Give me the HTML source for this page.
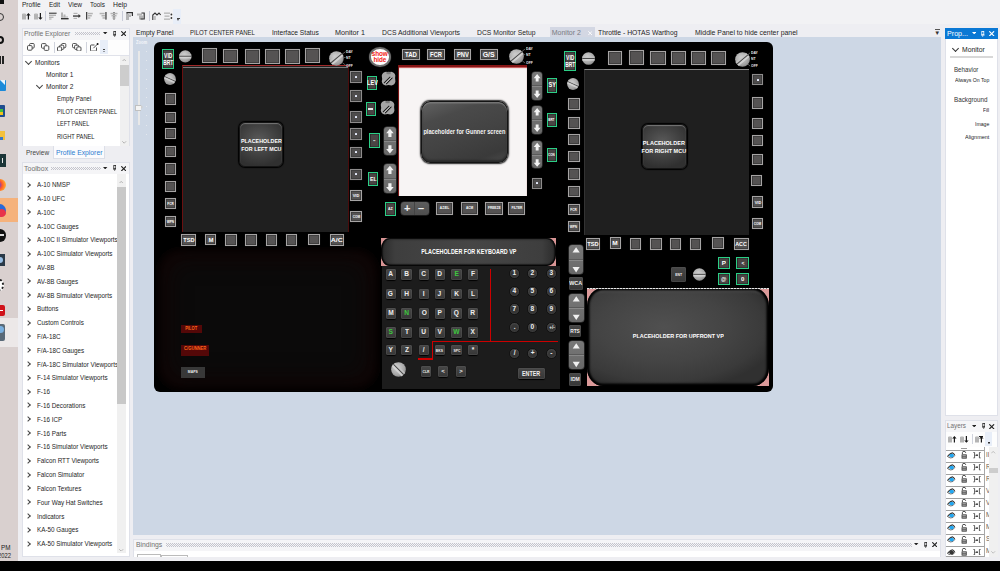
<!DOCTYPE html><html><head><meta charset="utf-8"><style>*{margin:0;padding:0;box-sizing:border-box}
html,body{width:1000px;height:571px;overflow:hidden;background:#000;font-family:"Liberation Sans",sans-serif;}
div{position:absolute}
#app{left:0;top:0;width:1000px;height:561px;background:#eeeef2;overflow:hidden}
.t{white-space:nowrap;line-height:1}
.osb{background:#555353;border:1.2px solid #a6a4a4;box-shadow:inset 0 0 0 0.8px #3a3a3a,0 0 0.6px #777;display:flex;align-items:center;justify-content:center;color:#fff;font-weight:bold}
.osb span{line-height:1;white-space:nowrap}
.dot{display:block;width:2px;height:2px;background:#fff;border-radius:1px}
.grn{background:#4a4444;border:1.4px solid #2bcf86;box-shadow:inset 0 0 0 0.6px #222;display:flex;align-items:center;justify-content:center;color:#fff;font-weight:bold;text-align:center}
.grn span{line-height:1}
.knob{border-radius:50%;background:radial-gradient(circle at 40% 35%,#c8c8c8,#a4a4a4 65%,#808080)}
.knob i{position:absolute;left:6%;top:40%;width:88%;height:20%;display:block;background:linear-gradient(#6a6a6a 0 30%,#c8c8c8 30% 75%,#8a8a8a 75% 100%)}
.rock{background:linear-gradient(#787878,#686868);border-radius:3px;overflow:hidden;box-shadow:0 0 0 0.5px #444}
.rh{left:0;top:0;width:100%;height:50%;border-bottom:1px solid #5a5a5a}
.rh2{top:50%;border-bottom:none;border-top:0.5px solid #888}
.ph{border-radius:7px;background:radial-gradient(ellipse at 50% 50%,#4e4e4e,#3a3a3a 70%,#2a2a2a);border:1.5px solid #111;box-shadow:0 0 0 1px #000;color:#f0f0f0;font-weight:bold;display:flex;align-items:center;justify-content:center;text-align:center;line-height:1.15}
.key{background:linear-gradient(#474747,#363636);border-radius:2px;box-shadow:0 0.5px 1px #000,inset 0 0 0 0.5px #555;color:#eee;font-weight:bold;font-size:7px;display:flex;align-items:center;justify-content:center}
.num{border-radius:50%;background:radial-gradient(circle at 50% 55%,#353535 45%,#4a4a4a 72%,#5a5a5a 82%,#2a2a2a 95%);border:0.7px solid #111;color:#eee;font-weight:bold;display:flex;align-items:center;justify-content:center}
.oct{border-radius:40%}
.pm{background:linear-gradient(#5e5e5e,#4e4e4e);border-radius:3px;box-shadow:0 0 0 0.5px #333}
.pm b{position:absolute;top:0px;font-size:11px;line-height:13px;color:#eee;font-weight:bold}
.pm:after{content:"";position:absolute;left:13.5px;top:0;width:1px;height:100%;background:#444}
.ll{display:flex;align-items:center;justify-content:center;font-weight:bold}
.mcu{border-radius:6px;background:radial-gradient(ellipse 70% 60% at 45% 40%,#5a5a5a,#404040 60%,#303030);border:1.3px solid #151515;box-shadow:0 0 1px 1px #000, inset 0 1px 1px #777}
.gun{border-radius:9px/10px;background:linear-gradient(160deg,#626262 0%,#4a4a4a 25%,#434343 55%,#3a3a3a 85%,#4a4a4a 100%);border:1.6px solid #141414;box-shadow:0 0 1.5px 0.8px #222, inset 0 1.5px 1px #777, inset 0 -2px 2px #2a2a2a}
.kvp{border-radius:9px/11px;background:linear-gradient(90deg,#2a2a2a 0,#3e3e3e 8%,#464646 50%,#3e3e3e 92%,#2a2a2a 100%);border:none;box-shadow:inset 0 0 1.5px 1.5px #000, inset 0 3px 1px -1px #666}
.uvp{border-radius:16px/18px;background:radial-gradient(ellipse 65% 65% at 42% 40%,#505050,#444 55%,#3a3a3a 85%,#303030);border:none;box-shadow:inset 0 0 2px 2.5px #000, inset 0 5px 3px -2px #6a6a6a}
.sm{border-color:#8e8c8c;background:#4e4c4c}
.sm .dot{width:2px;height:2px;background:#e8eeff;border-radius:0.5px}
</style></head><body>
<div id="app">
<div style="left:0px;top:0px;width:18px;height:561px;background:#d9d0cf"></div>
<div style="left:0px;top:0px;width:4px;height:4px;background:#111"></div>
<div style="left:-4px;top:13px;width:8px;height:8px;border:1.5px solid #333;border-radius:50%"></div>
<div style="left:-4px;top:36px;width:8px;height:8px;border:2px solid #111;border-radius:50%"></div>
<div style="left:0px;top:56px;width:1px;height:8px;background:#222"></div>
<div style="left:2px;top:56px;width:1.5px;height:8px;background:#222"></div>
<div style="left:0px;top:80px;width:5.5px;height:11px;background:#1b8ad9;border-radius:0 1px 1px 0"></div>
<div style="left:0;top:80px;width:0;height:0;border-left:5px solid transparent;border-top:5px solid #e8f4fc"></div>
<div style="left:0px;top:105px;width:5px;height:12px;background:#1f4e8f;border-radius:0 1px 1px 0"></div>
<div style="left:0px;top:109px;width:3px;height:2.5px;background:#3fbf3f"></div>
<div style="left:0px;top:112px;width:3px;height:2.5px;background:#f2c21c"></div>
<div style="left:0px;top:131px;width:4.5px;height:9px;background:#f4c13d"></div>
<div style="left:0px;top:137px;width:3px;height:3px;background:#3a78c8"></div>
<div style="left:0px;top:154px;width:5.5px;height:13px;background:#1c3638"></div>
<div style="left:1.5px;top:158px;width:1.5px;height:5px;background:#e8e8e8"></div>
<div style="left:-6px;top:179px;width:12px;height:12px;border-radius:50%;background:radial-gradient(circle at 30% 50%,#7b3fc4 20%,#ff5a2a 45%,#ffb030 80%)"></div>
<div style="left:0px;top:198.3px;width:18px;height:24.2px;background:#f5b27c"></div>
<div style="left:-7px;top:204px;width:13px;height:13px;border-radius:50%;background:#2a6ad8"></div>
<div style="left:-3px;top:209px;width:9px;height:8px;border-radius:50%;background:#e8334a"></div>
<div style="left:-6px;top:229px;width:12px;height:12.5px;border-radius:50%;background:#111"></div>
<div style="left:0px;top:234px;width:4px;height:2px;background:#ddd"></div>
<div style="left:0px;top:254px;width:5px;height:12px;background:#2a3a48"></div>
<div style="left:-3px;top:257px;width:6px;height:6px;border-radius:50%;background:#9ac0e6"></div>
<div style="left:-4px;top:279px;width:8px;height:12px;border:2px dotted #222;border-radius:50%;background:#fff"></div>
<div style="left:0px;top:304.6px;width:4.5px;height:11.1px;background:#d0121a;border-radius:0 2px 2px 0"></div>
<div style="left:0px;top:309.5px;width:3px;height:1.5px;background:#fff"></div>
<div style="left:0px;top:318.4px;width:18px;height:28.6px;background:#ece8e8"></div>
<div style="left:0px;top:324px;width:5px;height:17px;background:#5a6a78;border-radius:0 2px 2px 0"></div>
<div style="left:-3px;top:326px;width:7px;height:7px;border-radius:50%;background:#7ab0e0"></div>
<div class="t" style="left:0.5px;top:543.59px;font-size:7px;color:#222;transform:scaleX(0.905);transform-origin:0 0;">PM</div>
<div class="t" style="left:-2px;top:552.29px;font-size:7px;color:#222;transform:scaleX(0.835);transform-origin:0 0;">2022</div>
<div style="left:18px;top:0px;width:982px;height:24px;background:#f2f2f4"></div>
<div class="t" style="left:22.2px;top:0.89px;font-size:7px;color:#1e1e1e;transform:scaleX(0.937);transform-origin:0 0;">Profile</div>
<div class="t" style="left:49px;top:0.89px;font-size:7px;color:#1e1e1e;transform:scaleX(0.912);transform-origin:0 0;">Edit</div>
<div class="t" style="left:68.2px;top:0.89px;font-size:7px;color:#1e1e1e;transform:scaleX(0.931);transform-origin:0 0;">View</div>
<div class="t" style="left:90px;top:0.89px;font-size:7px;color:#1e1e1e;transform:scaleX(0.918);transform-origin:0 0;">Tools</div>
<div class="t" style="left:113px;top:0.89px;font-size:7px;color:#1e1e1e;transform:scaleX(0.972);transform-origin:0 0;">Help</div>
<svg style="position:absolute;left:21.6px;top:12px" width="9" height="9" viewBox="0 0 9 9"><rect x="0" y="2" width="4" height="5.5" fill="#b4b4b4"/><rect x="0.5" y="1.2" width="3" height="1" fill="#ccc"/><path d="M6.4 1 L8.6 3.4 L7 3.4 L7 7.5 L5.8 7.5 L5.8 3.4 L4.2 3.4Z" fill="#1a1a1a"/></svg>
<svg style="position:absolute;left:33.8px;top:12px" width="9" height="9" viewBox="0 0 9 9"><rect x="0" y="2" width="4" height="5.5" fill="#b4b4b4"/><rect x="0.5" y="1.2" width="3" height="1" fill="#ccc"/><path d="M6.4 7.8 L8.6 5.4 L7 5.4 L7 1 L5.8 1 L5.8 5.4 L4.2 5.4Z" fill="#1a1a1a"/></svg>
<div style="left:45.4px;top:11.2px;width:0.7px;height:9.6px;background:#c9ccd8"></div>
<svg style="position:absolute;left:48.8px;top:12.4px" width="8" height="8" viewBox="0 0 8 8"><rect x="0" y="0.6" width="7.6" height="1.3" fill="#555"/><rect x="0" y="2.6" width="7" height="1.4" fill="#b4b4b4"/><rect x="0" y="4.6" width="4.5" height="1.4" fill="#b4b4b4"/><rect x="0" y="6.4" width="2.5" height="1.2" fill="#b4b4b4"/></svg>
<svg style="position:absolute;left:61.2px;top:12.4px" width="8" height="8" viewBox="0 0 8 8"><rect x="0" y="0.5" width="2" height="5" fill="#b4b4b4"/><rect x="2.5" y="2.5" width="2" height="3" fill="#b4b4b4"/><rect x="0" y="4.5" width="7" height="1" fill="#b4b4b4"/><rect x="0" y="6" width="7.6" height="1.4" fill="#333"/></svg>
<svg style="position:absolute;left:73.2px;top:12.4px" width="8" height="8" viewBox="0 0 8 8"><rect x="0.5" y="0.8" width="4" height="1.2" fill="#b4b4b4"/><rect x="0" y="3.4" width="6" height="1.3" fill="#333"/><path d="M5.5 2 L7.8 4 L5.5 6Z" fill="#333"/><rect x="0.5" y="5.8" width="3.5" height="1.2" fill="#b4b4b4"/></svg>
<svg style="position:absolute;left:86px;top:12.4px" width="8" height="8" viewBox="0 0 8 8"><rect x="0" y="0" width="1.3" height="7.6" fill="#444"/><rect x="1.8" y="0.8" width="5" height="1.5" fill="#b4b4b4"/><rect x="1.8" y="3" width="4" height="1.5" fill="#b4b4b4"/><rect x="1.8" y="5.2" width="2.5" height="1.5" fill="#b4b4b4"/></svg>
<svg style="position:absolute;left:98.6px;top:12.4px" width="8" height="8" viewBox="0 0 8 8"><rect x="6.3" y="0" width="1.3" height="7.6" fill="#444"/><rect x="0.6" y="0.8" width="5" height="1.5" fill="#b4b4b4"/><rect x="2.5" y="3" width="3.4" height="1.5" fill="#b4b4b4"/><rect x="3.5" y="5.2" width="2.5" height="1.5" fill="#b4b4b4"/></svg>
<svg style="position:absolute;left:109.9px;top:12.4px" width="8" height="8" viewBox="0 0 8 8"><rect x="3.4" y="0" width="1.2" height="7.6" fill="#444"/><rect x="0.5" y="0.8" width="7" height="1.5" fill="#b4b4b4"/><rect x="1.5" y="3" width="5" height="1.5" fill="#b4b4b4"/><rect x="2.5" y="5.2" width="3" height="1.5" fill="#b4b4b4"/></svg>
<div style="left:121.5px;top:11.2px;width:0.7px;height:9.6px;background:#c9ccd8"></div>
<svg style="position:absolute;left:125.6px;top:12.2px" width="8" height="8.5" viewBox="0 0 8 8.5"><rect x="0" y="2" width="3" height="6" fill="#b4b4b4"/><rect x="3" y="2.5" width="2" height="2.5" fill="#b4b4b4"/><path d="M1 1.8 L1 0.6 L6.4 0.6 L6.4 4" stroke="#333" stroke-width="1.2" fill="none"/></svg>
<svg style="position:absolute;left:136.9px;top:12.2px" width="8.5" height="8.5" viewBox="0 0 8.5 8.5"><rect x="0" y="1.5" width="5" height="2" fill="#b4b4b4"/><rect x="2" y="3.5" width="4" height="4" fill="#b4b4b4"/><path d="M4.5 1 L7.2 1 L7.2 7 L3.5 7" stroke="#333" stroke-width="1.2" fill="none"/></svg>
<div style="left:148.8px;top:11.2px;width:0.7px;height:9.6px;background:#c9ccd8"></div>
<svg style="position:absolute;left:151.7px;top:12.2px" width="9.5" height="8.5" viewBox="0 0 9.5 8.5"><path d="M0.8 8 L0.8 3 L3 1 L5 3 L7 1 L8.6 3" stroke="#333" stroke-width="1.1" fill="none"/><rect x="2.2" y="4" width="1.5" height="4" fill="#b4b4b4"/></svg>
<svg style="position:absolute;left:163.9px;top:12.2px" width="9" height="8.5" viewBox="0 0 9 8.5"><rect x="0" y="0.5" width="6" height="1.3" fill="#b4b4b4"/><rect x="0.5" y="3.5" width="5" height="1.3" fill="#b4b4b4"/><rect x="0" y="6.5" width="6" height="1.3" fill="#b4b4b4"/><circle cx="7.4" cy="2.5" r="0.9" fill="#333"/><circle cx="7.4" cy="6" r="0.9" fill="#333"/></svg>
<div style="left:173.3px;top:9.4px;width:7.7px;height:14.6px;background:#e8eef8"></div>
<div style="left:176.8px;top:17.6px;width:3.0px;height:0.7px;background:#444"></div>
<div style="left:176.8px;top:19px;width:0;height:0;border-left:1.5px solid transparent;border-right:1.5px solid transparent;border-top:2px solid #444"></div>
<div style="left:21.5px;top:27.7px;width:108.0px;height:118.8px;background:#f5f5f7;border:1px solid #dfe1e9"></div>
<div class="t" style="left:24px;top:29.89px;font-size:7px;color:#707070;transform:scaleX(0.968);transform-origin:0 0;">Profile Explorer</div>
<div style="left:75px;top:31.8px;width:25px;height:3.4px;background-image:radial-gradient(circle at 0.5px 0.5px,#c4c4cc 0.55px,transparent 0.7px),radial-gradient(circle at 1.5px 1.5px,#c4c4cc 0.55px,transparent 0.7px);background-size:2px 2px"></div>
<svg style="position:absolute;left:103.4px;top:32.0px" width="4.4" height="2.4" viewBox="0 0 4.4 2.4"><path d="M0 0 L4.4 0 L2.2 2.4Z" fill="#222"/></svg>
<svg style="position:absolute;left:112.7px;top:30.6px" width="3.6" height="6" viewBox="0 0 3.6 6"><rect x="0.8" y="0.4" width="2" height="3.4" fill="none" stroke="#222" stroke-width="0.8"/><rect x="0" y="3.7" width="3.6" height="0.7" fill="#222"/><rect x="1.5" y="4.2" width="0.6" height="1.8" fill="#222"/></svg>
<svg style="position:absolute;left:120.8px;top:30.9px" width="5.4" height="5.4" viewBox="0 0 5.4 5.4"><path d="M0.3 0.3 L5.1 5.1 M5.1 0.3 L0.3 5.1" stroke="#222" stroke-width="1.1"/></svg>
<div style="left:22.5px;top:40px;width:106.0px;height:15.5px;background:#fdfdfd;border-bottom:1px solid #e0e2ea"></div>
<svg style="position:absolute;left:27px;top:42.8px" width="8" height="8" viewBox="0 0 8 8"><rect x="2.6" y="0.5" width="4.6" height="4.6" rx="1" fill="#fff" stroke="#3c3c3c" stroke-width="0.9"/><rect x="0.5" y="2.6" width="4.6" height="4.6" rx="1" fill="#fff" stroke="#3c3c3c" stroke-width="0.9"/></svg>
<svg style="position:absolute;left:41.2px;top:42.8px" width="8.5" height="8" viewBox="0 0 8.5 8"><rect x="0.5" y="0.6" width="4.6" height="4.6" rx="1" fill="#fff" stroke="#3c3c3c" stroke-width="0.9"/><rect x="3.2" y="2.8" width="4.6" height="4.6" rx="1" fill="#fff" stroke="#3c3c3c" stroke-width="0.9"/></svg>
<div style="left:53.5px;top:42px;width:0.7px;height:11px;background:#d0d3dc"></div>
<svg style="position:absolute;left:57.4px;top:42.6px" width="10" height="8.6" viewBox="0 0 10 8.6"><rect x="4.6" y="0.5" width="4.2" height="4.2" rx="1" fill="#fff" stroke="#3c3c3c" stroke-width="0.9"/><rect x="2.6" y="2.2" width="4.2" height="4.2" rx="1" fill="#fff" stroke="#3c3c3c" stroke-width="0.9"/><rect x="0.5" y="3.9" width="4.2" height="4.2" rx="1" fill="#fff" stroke="#3c3c3c" stroke-width="0.9"/></svg>
<svg style="position:absolute;left:71.8px;top:42.6px" width="10.5" height="8.6" viewBox="0 0 10.5 8.6"><rect x="0.5" y="0.5" width="4.2" height="4.2" rx="1" fill="#fff" stroke="#3c3c3c" stroke-width="0.9"/><rect x="2.6" y="2.2" width="4.2" height="4.2" rx="1" fill="#fff" stroke="#3c3c3c" stroke-width="0.9"/><rect x="4.8" y="3.9" width="4.2" height="4.2" rx="1" fill="#fff" stroke="#3c3c3c" stroke-width="0.9"/></svg>
<div style="left:85.8px;top:42px;width:0.7px;height:11px;background:#d0d3dc"></div>
<svg style="position:absolute;left:89.5px;top:42.6px" width="9" height="8.6" viewBox="0 0 9 8.6"><path d="M4.5 2 L1.2 2 Q0.5 2 0.5 2.8 L0.5 7.4 Q0.5 8.1 1.2 8.1 L5.8 8.1 Q6.5 8.1 6.5 7.4 L6.5 4.5" fill="none" stroke="#3c3c3c" stroke-width="0.9"/><path d="M3.4 5.2 L7.4 1.2" stroke="#3c3c3c" stroke-width="0.9"/><circle cx="7.6" cy="1.1" r="1" fill="#111"/></svg>
<div style="left:100.4px;top:40px;width:7.2px;height:13.5px;background:#e8eef8"></div>
<div style="left:103.2px;top:49.4px;width:2.2px;height:0.5px;background:#444"></div>
<div style="left:103.1px;top:50.5px;width:0;height:0;border-left:1.2px solid transparent;border-right:1.2px solid transparent;border-top:1.8px solid #444"></div>
<div style="left:22.5px;top:56px;width:106.0px;height:90px;background:#fff"></div>
<div style="left:120.4px;top:56px;width:8.2px;height:90px;background:#f0f0f0"></div>
<div style="left:120.4px;top:65px;width:8.2px;height:20.8px;background:#cdcdcd"></div>
<svg style="position:absolute;left:122.2px;top:58.6px" width="4.4" height="2.6" viewBox="0 0 4.4 2.6"><path d="M0.3 2.3 L2.2 0.4 L4.1 2.3" stroke="#999" stroke-width="0.7" fill="none"/></svg>
<div style="left:25.8px;top:58.5px;width:5px;height:5px;border-right:1px solid #444;border-bottom:1px solid #444;transform:rotate(45deg)"></div>
<div class="t" style="left:35px;top:59.29px;font-size:7px;color:#1e1e1e;transform:scaleX(0.924);transform-origin:0 0;">Monitors</div>
<div class="t" style="left:46px;top:70.79px;font-size:7px;color:#1e1e1e;transform:scaleX(0.943);transform-origin:0 0;">Monitor 1</div>
<div style="left:36.8px;top:82.5px;width:5px;height:5px;border-right:1px solid #444;border-bottom:1px solid #444;transform:rotate(45deg)"></div>
<div class="t" style="left:46px;top:83.29px;font-size:7px;color:#1e1e1e;transform:scaleX(0.943);transform-origin:0 0;">Monitor 2</div>
<div class="t" style="left:57px;top:95.29px;font-size:7px;color:#1e1e1e;transform:scaleX(0.864);transform-origin:0 0;">Empty Panel</div>
<div class="t" style="left:57px;top:107.59px;font-size:7px;color:#1e1e1e;transform:scaleX(0.798);transform-origin:0 0;">PILOT CENTER PANEL</div>
<div class="t" style="left:57px;top:120.29px;font-size:7px;color:#1e1e1e;transform:scaleX(0.778);transform-origin:0 0;">LEFT PANEL</div>
<div class="t" style="left:57px;top:132.99px;font-size:7px;color:#1e1e1e;transform:scaleX(0.815);transform-origin:0 0;">RIGHT PANEL</div>
<div style="left:120.6px;top:56px;width:7.8px;height:90px;background:transparent"></div>
<svg style="position:absolute;left:122.2px;top:141.2px" width="4.4" height="2.6" viewBox="0 0 4.4 2.6"><path d="M0.3 0.3 L2.2 2.2 L4.1 0.3" stroke="#999" stroke-width="0.7" fill="none"/></svg>
<div style="left:52.5px;top:146px;width:52.5px;height:12.5px;background:#fbfbfd;border:1px solid #dcdfe8;border-top:none"></div>
<div class="t" style="left:25.5px;top:148.89px;font-size:7px;color:#444;transform:scaleX(0.928);transform-origin:0 0;">Preview</div>
<div class="t" style="left:56px;top:148.89px;font-size:7px;color:#2b7bd0;transform:scaleX(0.970);transform-origin:0 0;">Profile Explorer</div>
<div style="left:21.5px;top:162.4px;width:108.0px;height:394.6px;background:#f5f5f7;border:1px solid #dfe1e9"></div>
<div class="t" style="left:24px;top:164.59px;font-size:7px;color:#707070;">Toolbox</div>
<div style="left:51px;top:166.5px;width:50px;height:3.5px;background-image:radial-gradient(circle at 0.5px 0.5px,#c4c4cc 0.55px,transparent 0.7px),radial-gradient(circle at 1.5px 1.5px,#c4c4cc 0.55px,transparent 0.7px);background-size:2px 2px"></div>
<svg style="position:absolute;left:103.3px;top:166.7px" width="4.4" height="2.4" viewBox="0 0 4.4 2.4"><path d="M0 0 L4.4 0 L2.2 2.4Z" fill="#222"/></svg>
<svg style="position:absolute;left:112.6px;top:165.3px" width="3.6" height="6" viewBox="0 0 3.6 6"><rect x="0.8" y="0.4" width="2" height="3.4" fill="none" stroke="#222" stroke-width="0.8"/><rect x="0" y="3.7" width="3.6" height="0.7" fill="#222"/><rect x="1.5" y="4.2" width="0.6" height="1.8" fill="#222"/></svg>
<svg style="position:absolute;left:120.7px;top:165.6px" width="5.4" height="5.4" viewBox="0 0 5.4 5.4"><path d="M0.3 0.3 L5.1 5.1 M5.1 0.3 L0.3 5.1" stroke="#222" stroke-width="1.1"/></svg>
<div style="left:22.5px;top:174.2px;width:106.0px;height:382.3px;background:#fff"></div>
<div style="left:117px;top:174.2px;width:9px;height:379.3px;background:#f0f0f0"></div>
<div style="left:117px;top:187px;width:9px;height:216.6px;background:#c8c8c8"></div>
<svg style="position:absolute;left:119.3px;top:180.6px" width="4.4" height="2.6" viewBox="0 0 4.4 2.6"><path d="M0.3 2.3 L2.2 0.4 L4.1 2.3" stroke="#999" stroke-width="0.7" fill="none"/></svg>
<svg style="position:absolute;left:119.3px;top:548.6px" width="4.4" height="2.6" viewBox="0 0 4.4 2.6"><path d="M0.3 0.3 L2.2 2.2 L4.1 0.3" stroke="#999" stroke-width="0.7" fill="none"/></svg>
<div style="left:22.5px;top:174px;width:94px;height:383px;overflow:hidden">
<div style="left:3.0px;top:8.50000000000001px;width:4px;height:4px;border-right:1px solid #444;border-top:1px solid #444;transform:rotate(45deg)"></div>
<div class="t" style="left:14.2px;top:7.09px;font-size:7px;color:#1e1e1e;transform:scaleX(0.900);transform-origin:0 0;">A-10 NMSP</div>
<div style="left:3.0px;top:22.310000000000013px;width:4px;height:4px;border-right:1px solid #444;border-top:1px solid #444;transform:rotate(45deg)"></div>
<div class="t" style="left:14.2px;top:20.9px;font-size:7px;color:#1e1e1e;transform:scaleX(0.900);transform-origin:0 0;">A-10 UFC</div>
<div style="left:3.0px;top:36.12000000000002px;width:4px;height:4px;border-right:1px solid #444;border-top:1px solid #444;transform:rotate(45deg)"></div>
<div class="t" style="left:14.2px;top:34.71px;font-size:7px;color:#1e1e1e;transform:scaleX(0.900);transform-origin:0 0;">A-10C</div>
<div style="left:3.0px;top:49.93000000000002px;width:4px;height:4px;border-right:1px solid #444;border-top:1px solid #444;transform:rotate(45deg)"></div>
<div class="t" style="left:14.2px;top:48.52px;font-size:7px;color:#1e1e1e;transform:scaleX(0.900);transform-origin:0 0;">A-10C Gauges</div>
<div style="left:3.0px;top:63.74000000000002px;width:4px;height:4px;border-right:1px solid #444;border-top:1px solid #444;transform:rotate(45deg)"></div>
<div class="t" style="left:14.2px;top:62.33px;font-size:7px;color:#1e1e1e;transform:scaleX(0.900);transform-origin:0 0;">A-10C II Simulator Viewports</div>
<div style="left:3.0px;top:77.55000000000003px;width:4px;height:4px;border-right:1px solid #444;border-top:1px solid #444;transform:rotate(45deg)"></div>
<div class="t" style="left:14.2px;top:76.14px;font-size:7px;color:#1e1e1e;transform:scaleX(0.900);transform-origin:0 0;">A-10C Simulator Viewports</div>
<div style="left:3.0px;top:91.36000000000003px;width:4px;height:4px;border-right:1px solid #444;border-top:1px solid #444;transform:rotate(45deg)"></div>
<div class="t" style="left:14.2px;top:89.95px;font-size:7px;color:#1e1e1e;transform:scaleX(0.900);transform-origin:0 0;">AV-8B</div>
<div style="left:3.0px;top:105.17000000000003px;width:4px;height:4px;border-right:1px solid #444;border-top:1px solid #444;transform:rotate(45deg)"></div>
<div class="t" style="left:14.2px;top:103.76px;font-size:7px;color:#1e1e1e;transform:scaleX(0.900);transform-origin:0 0;">AV-8B Gauges</div>
<div style="left:3.0px;top:118.98000000000003px;width:4px;height:4px;border-right:1px solid #444;border-top:1px solid #444;transform:rotate(45deg)"></div>
<div class="t" style="left:14.2px;top:117.57px;font-size:7px;color:#1e1e1e;transform:scaleX(0.900);transform-origin:0 0;">AV-8B Simulator Viewports</div>
<div style="left:3.0px;top:132.79000000000002px;width:4px;height:4px;border-right:1px solid #444;border-top:1px solid #444;transform:rotate(45deg)"></div>
<div class="t" style="left:14.2px;top:131.38px;font-size:7px;color:#1e1e1e;transform:scaleX(0.900);transform-origin:0 0;">Buttons</div>
<div style="left:3.0px;top:146.59999999999997px;width:4px;height:4px;border-right:1px solid #444;border-top:1px solid #444;transform:rotate(45deg)"></div>
<div class="t" style="left:14.2px;top:145.19px;font-size:7px;color:#1e1e1e;transform:scaleX(0.900);transform-origin:0 0;">Custom Controls</div>
<div style="left:3.0px;top:160.41000000000003px;width:4px;height:4px;border-right:1px solid #444;border-top:1px solid #444;transform:rotate(45deg)"></div>
<div class="t" style="left:14.2px;top:159.0px;font-size:7px;color:#1e1e1e;transform:scaleX(0.900);transform-origin:0 0;">F/A-18C</div>
<div style="left:3.0px;top:174.21999999999997px;width:4px;height:4px;border-right:1px solid #444;border-top:1px solid #444;transform:rotate(45deg)"></div>
<div class="t" style="left:14.2px;top:172.81px;font-size:7px;color:#1e1e1e;transform:scaleX(0.900);transform-origin:0 0;">F/A-18C Gauges</div>
<div style="left:3.0px;top:188.03000000000003px;width:4px;height:4px;border-right:1px solid #444;border-top:1px solid #444;transform:rotate(45deg)"></div>
<div class="t" style="left:14.2px;top:186.62px;font-size:7px;color:#1e1e1e;transform:scaleX(0.900);transform-origin:0 0;">F/A-18C Simulator Viewports</div>
<div style="left:3.0px;top:201.83999999999997px;width:4px;height:4px;border-right:1px solid #444;border-top:1px solid #444;transform:rotate(45deg)"></div>
<div class="t" style="left:14.2px;top:200.43px;font-size:7px;color:#1e1e1e;transform:scaleX(0.900);transform-origin:0 0;">F-14 Simulator Viewports</div>
<div style="left:3.0px;top:215.65000000000003px;width:4px;height:4px;border-right:1px solid #444;border-top:1px solid #444;transform:rotate(45deg)"></div>
<div class="t" style="left:14.2px;top:214.24px;font-size:7px;color:#1e1e1e;transform:scaleX(0.900);transform-origin:0 0;">F-16</div>
<div style="left:3.0px;top:229.45999999999998px;width:4px;height:4px;border-right:1px solid #444;border-top:1px solid #444;transform:rotate(45deg)"></div>
<div class="t" style="left:14.2px;top:228.05px;font-size:7px;color:#1e1e1e;transform:scaleX(0.900);transform-origin:0 0;">F-16 Decorations</div>
<div style="left:3.0px;top:243.27000000000004px;width:4px;height:4px;border-right:1px solid #444;border-top:1px solid #444;transform:rotate(45deg)"></div>
<div class="t" style="left:14.2px;top:241.86px;font-size:7px;color:#1e1e1e;transform:scaleX(0.900);transform-origin:0 0;">F-16 ICP</div>
<div style="left:3.0px;top:257.08px;width:4px;height:4px;border-right:1px solid #444;border-top:1px solid #444;transform:rotate(45deg)"></div>
<div class="t" style="left:14.2px;top:255.67px;font-size:7px;color:#1e1e1e;transform:scaleX(0.900);transform-origin:0 0;">F-16 Parts</div>
<div style="left:3.0px;top:270.89px;width:4px;height:4px;border-right:1px solid #444;border-top:1px solid #444;transform:rotate(45deg)"></div>
<div class="t" style="left:14.2px;top:269.48px;font-size:7px;color:#1e1e1e;transform:scaleX(0.900);transform-origin:0 0;">F-16 Simulator Viewports</div>
<div style="left:3.0px;top:284.7px;width:4px;height:4px;border-right:1px solid #444;border-top:1px solid #444;transform:rotate(45deg)"></div>
<div class="t" style="left:14.2px;top:283.29px;font-size:7px;color:#1e1e1e;transform:scaleX(0.900);transform-origin:0 0;">Falcon RTT Viewports</div>
<div style="left:3.0px;top:298.51px;width:4px;height:4px;border-right:1px solid #444;border-top:1px solid #444;transform:rotate(45deg)"></div>
<div class="t" style="left:14.2px;top:297.1px;font-size:7px;color:#1e1e1e;transform:scaleX(0.900);transform-origin:0 0;">Falcon Simulator</div>
<div style="left:3.0px;top:312.32px;width:4px;height:4px;border-right:1px solid #444;border-top:1px solid #444;transform:rotate(45deg)"></div>
<div class="t" style="left:14.2px;top:310.91px;font-size:7px;color:#1e1e1e;transform:scaleX(0.900);transform-origin:0 0;">Falcon Textures</div>
<div style="left:3.0px;top:326.13px;width:4px;height:4px;border-right:1px solid #444;border-top:1px solid #444;transform:rotate(45deg)"></div>
<div class="t" style="left:14.2px;top:324.72px;font-size:7px;color:#1e1e1e;transform:scaleX(0.900);transform-origin:0 0;">Four Way Hat Switches</div>
<div style="left:3.0px;top:339.94px;width:4px;height:4px;border-right:1px solid #444;border-top:1px solid #444;transform:rotate(45deg)"></div>
<div class="t" style="left:14.2px;top:338.53px;font-size:7px;color:#1e1e1e;transform:scaleX(0.900);transform-origin:0 0;">Indicators</div>
<div style="left:3.0px;top:353.74999999999994px;width:4px;height:4px;border-right:1px solid #444;border-top:1px solid #444;transform:rotate(45deg)"></div>
<div class="t" style="left:14.2px;top:352.34px;font-size:7px;color:#1e1e1e;transform:scaleX(0.900);transform-origin:0 0;">KA-50 Gauges</div>
<div style="left:3.0px;top:367.56px;width:4px;height:4px;border-right:1px solid #444;border-top:1px solid #444;transform:rotate(45deg)"></div>
<div class="t" style="left:14.2px;top:366.15px;font-size:7px;color:#1e1e1e;transform:scaleX(0.900);transform-origin:0 0;">KA-50 Simulator Viewports</div>
</div>
<div style="left:133px;top:37px;width:808px;height:498px;background:#cdd7e5"></div>
<div class="t" style="left:136.25px;top:28.59px;font-size:7px;color:#1e1e1e;transform:scaleX(0.945);transform-origin:0 0;">Empty Panel</div>
<div class="t" style="left:190px;top:28.59px;font-size:7px;color:#1e1e1e;transform:scaleX(0.864);transform-origin:0 0;">PILOT CENTER PANEL</div>
<div class="t" style="left:272px;top:28.59px;font-size:7px;color:#1e1e1e;transform:scaleX(0.954);transform-origin:0 0;">Interface Status</div>
<div class="t" style="left:335px;top:28.59px;font-size:7px;color:#1e1e1e;transform:scaleX(1.028);transform-origin:0 0;">Monitor 1</div>
<div class="t" style="left:382px;top:28.59px;font-size:7px;color:#1e1e1e;transform:scaleX(0.979);transform-origin:0 0;">DCS Additional Viewports</div>
<div class="t" style="left:477px;top:28.59px;font-size:7px;color:#1e1e1e;transform:scaleX(0.970);transform-origin:0 0;">DCS Monitor Setup</div>
<div class="t" style="left:598px;top:28.59px;font-size:7px;color:#1e1e1e;transform:scaleX(0.973);transform-origin:0 0;">Throttle - HOTAS Warthog</div>
<div class="t" style="left:694.5px;top:28.59px;font-size:7px;color:#1e1e1e;transform:scaleX(0.987);transform-origin:0 0;">Middle Panel to hide center panel</div>
<div style="left:549.5px;top:27.2px;width:45.0px;height:9.8px;background:#d3d7e3"></div>
<div class="t" style="left:551.75px;top:28.89px;font-size:7px;color:#777a82;">Monitor 2</div>
<svg style="position:absolute;left:587.6px;top:30.6px" width="4.4" height="4.4" viewBox="0 0 4.4 4.4"><path d="M0.3 0.3 L4.1 4.1 M4.1 0.3 L0.3 4.1" stroke="#fff" stroke-width="0.9"/></svg>
<div style="left:935px;top:29px;width:5px;height:1px;background:#555"></div>
<div class="t" style="left:934.3px;top:29.5px;font-size:6px;color:#333">&#9660;</div>
<div style="left:944.8px;top:27.9px;width:53.2px;height:11.5px;background:#0a78d4"></div>
<div class="t" style="left:947px;top:29.89px;font-size:7px;color:#fff;transform:scaleX(1.018);transform-origin:0 0;">Prop...</div>
<svg style="position:absolute;left:972.1px;top:32.0px" width="4.4" height="2.4" viewBox="0 0 4.4 2.4"><path d="M0 0 L4.4 0 L2.2 2.4Z" fill="#fff"/></svg>
<svg style="position:absolute;left:981.2px;top:30.6px" width="3.6" height="6" viewBox="0 0 3.6 6"><rect x="0.8" y="0.4" width="2" height="3.4" fill="none" stroke="#fff" stroke-width="0.8"/><rect x="0" y="3.7" width="3.6" height="0.7" fill="#fff"/><rect x="1.5" y="4.2" width="0.6" height="1.8" fill="#fff"/></svg>
<svg style="position:absolute;left:989.3px;top:30.9px" width="5.4" height="5.4" viewBox="0 0 5.4 5.4"><path d="M0.3 0.3 L5.1 5.1 M5.1 0.3 L0.3 5.1" stroke="#fff" stroke-width="1.1"/></svg>
<div style="left:944.8px;top:39.4px;width:53.2px;height:376.3px;background:#fff;border:1px solid #dfe1e9;border-top:none"></div>
<div style="left:952.5px;top:46.3px;width:5px;height:5px;border-right:1px solid #333;border-bottom:1px solid #333;transform:rotate(45deg)"></div>
<div class="t" style="left:962.3px;top:46.49px;font-size:7px;color:#222;transform:scaleX(0.973);transform-origin:0 0;">Monitor</div>
<div style="left:950px;top:56.2px;width:42.5px;height:1.4px;background:#d8d8d8"></div>
<div class="t" style="left:954.4px;top:66.09px;font-size:7px;color:#333;transform:scaleX(0.883);transform-origin:0 0;">Behavior</div>
<div class="t" style="left:955px;top:78.43px;font-size:5.6px;color:#222;transform:scaleX(0.921);transform-origin:0 0;">Always On Top</div>
<div class="t" style="left:954.4px;top:95.99px;font-size:7px;color:#333;transform:scaleX(0.899);transform-origin:0 0;">Background</div>
<div class="t" style="left:983.2px;top:107.93px;font-size:5.6px;color:#222;transform:scaleX(0.853);transform-origin:0 0;">Fill</div>
<div class="t" style="left:975px;top:122.13px;font-size:5.6px;color:#222;transform:scaleX(0.919);transform-origin:0 0;">Image</div>
<div class="t" style="left:965.3px;top:134.93px;font-size:5.6px;color:#222;transform:scaleX(0.976);transform-origin:0 0;">Alignment</div>
<div style="left:944.5px;top:420px;width:53.5px;height:137px;background:#f5f5f7;border:1px solid #dfe1e9"></div>
<div class="t" style="left:946.6px;top:422.49px;font-size:7px;color:#707070;transform:scaleX(0.900);transform-origin:0 0;">Layers</div>
<svg style="position:absolute;left:971.8px;top:424.6px" width="4.4" height="2.4" viewBox="0 0 4.4 2.4"><path d="M0 0 L4.4 0 L2.2 2.4Z" fill="#222"/></svg>
<svg style="position:absolute;left:981.5px;top:423.2px" width="3.6" height="6" viewBox="0 0 3.6 6"><rect x="0.8" y="0.4" width="2" height="3.4" fill="none" stroke="#222" stroke-width="0.8"/><rect x="0" y="3.7" width="3.6" height="0.7" fill="#222"/><rect x="1.5" y="4.2" width="0.6" height="1.8" fill="#222"/></svg>
<svg style="position:absolute;left:989.4px;top:423.5px" width="5.4" height="5.4" viewBox="0 0 5.4 5.4"><path d="M0.3 0.3 L5.1 5.1 M5.1 0.3 L0.3 5.1" stroke="#222" stroke-width="1.1"/></svg>
<div style="left:945.5px;top:432px;width:51.5px;height:14.5px;background:#fdfdfd"></div>
<svg style="position:absolute;left:948px;top:434.8px" width="9" height="9" viewBox="0 0 9 9"><rect x="0" y="2" width="4" height="5.5" fill="#b4b4b4"/><rect x="0.5" y="1.2" width="3" height="1" fill="#ccc"/><path d="M6.4 1 L8.6 3.4 L7 3.4 L7 7.5 L5.8 7.5 L5.8 3.4 L4.2 3.4Z" fill="#1a1a1a"/></svg>
<svg style="position:absolute;left:960.2px;top:434.8px" width="9" height="9" viewBox="0 0 9 9"><rect x="0" y="2" width="4" height="5.5" fill="#b4b4b4"/><rect x="0.5" y="1.2" width="3" height="1" fill="#ccc"/><path d="M6.4 7.8 L8.6 5.4 L7 5.4 L7 1 L5.8 1 L5.8 5.4 L4.2 5.4Z" fill="#1a1a1a"/></svg>
<div style="left:971.8px;top:434px;width:0.7px;height:10px;background:#d0d3dc"></div>
<svg style="position:absolute;left:974.6px;top:434.8px" width="9" height="9" viewBox="0 0 9 9"><rect x="0" y="2" width="4" height="5.5" fill="#b4b4b4"/><rect x="0.5" y="1.2" width="3" height="1" fill="#ccc"/><path d="M6.4 1 L8.6 3.4 L7 3.4 L7 7.5 L5.8 7.5 L5.8 3.4 L4.2 3.4Z" fill="#1a1a1a"/></svg>
<div style="left:978.6px;top:435.6px;width:4.4px;height:0.7px;background:#1a1a1a"></div>
<div style="left:985px;top:432.3px;width:7.2px;height:13.7px;background:#e8eef8"></div>
<div style="left:988.1px;top:441.8px;width:2.2px;height:0.5px;background:#333"></div>
<div style="left:988px;top:442.9px;width:0;height:0;border-left:1.2px solid transparent;border-right:1.2px solid transparent;border-top:1.8px solid #333"></div>
<div style="left:945.5px;top:446.5px;width:51.5px;height:110.0px;background:#fff"></div>
<div style="left:961px;top:447.5px;width:6px;height:1.0px;background:#999"></div>
<div style="left:984.3px;top:446.5px;width:0.9px;height:110.0px;background:#a8a8a8"></div>
<div style="left:945.5px;top:449.5px;width:38.8px;height:1.0px;background:#a0a0a0"></div>
<svg style="position:absolute;left:947.4px;top:452.1px" width="8.2" height="6.6" viewBox="0 0 8.2 6.6"><path d="M0.4 4.4 Q2.8 0.6 5.4 0.8 Q7.4 1.2 7.8 3.4 Q6.4 6.2 3.6 6 Q2 5.6 0.4 4.4Z" fill="#d8d8d8" stroke="#555" stroke-width="0.8"/><ellipse cx="4.6" cy="3.6" rx="2.4" ry="1.8" fill="#22a8f2"/><path d="M0.6 4.3 Q3 1 5.6 1 Q7.3 1.4 7.6 3" stroke="#333" stroke-width="0.9" fill="none"/></svg>
<svg style="position:absolute;left:960.8px;top:451.2px" width="6.4" height="8" viewBox="0 0 6.4 8"><path d="M1.4 3.4 L1.4 1.6 Q1.4 0.4 3 0.4 Q4.6 0.4 4.6 1.6 L4.6 2" stroke="#4a4a4a" stroke-width="1" fill="none"/><rect x="0.5" y="3.3" width="5.4" height="4.4" rx="0.6" fill="#5a5a5a"/><rect x="1.6" y="4.3" width="3.2" height="0.9" fill="#bbb"/><rect x="1.6" y="5.9" width="3.2" height="0.9" fill="#999"/></svg>
<svg style="position:absolute;left:973.2px;top:452.3px" width="8" height="6.4" viewBox="0 0 8 6.4"><path d="M0.4 0.5 L1.6 0.5 L1.6 5.9 L0.4 5.9 M7.6 0.5 L6.4 0.5 L6.4 5.9 L7.6 5.9" stroke="#333" stroke-width="0.8" fill="none"/><circle cx="4" cy="3.2" r="0.9" fill="#222"/><rect x="1.6" y="2.9" width="1.5" height="0.6" fill="#444"/></svg>
<div class="t" style="left:986px;top:452.06px;font-size:6.5px;color:#6a5a52;">II</div>
<div style="left:945.5px;top:461.55px;width:38.8px;height:1.0px;background:#a0a0a0"></div>
<svg style="position:absolute;left:947.4px;top:464.15px" width="8.2" height="6.6" viewBox="0 0 8.2 6.6"><path d="M0.4 4.4 Q2.8 0.6 5.4 0.8 Q7.4 1.2 7.8 3.4 Q6.4 6.2 3.6 6 Q2 5.6 0.4 4.4Z" fill="#d8d8d8" stroke="#555" stroke-width="0.8"/><ellipse cx="4.6" cy="3.6" rx="2.4" ry="1.8" fill="#22a8f2"/><path d="M0.6 4.3 Q3 1 5.6 1 Q7.3 1.4 7.6 3" stroke="#333" stroke-width="0.9" fill="none"/></svg>
<svg style="position:absolute;left:960.8px;top:463.25px" width="6.4" height="8" viewBox="0 0 6.4 8"><path d="M1.4 3.4 L1.4 1.6 Q1.4 0.4 3 0.4 Q4.6 0.4 4.6 1.6 L4.6 2" stroke="#4a4a4a" stroke-width="1" fill="none"/><rect x="0.5" y="3.3" width="5.4" height="4.4" rx="0.6" fill="#5a5a5a"/><rect x="1.6" y="4.3" width="3.2" height="0.9" fill="#bbb"/><rect x="1.6" y="5.9" width="3.2" height="0.9" fill="#999"/></svg>
<svg style="position:absolute;left:973.2px;top:464.35px" width="8" height="6.4" viewBox="0 0 8 6.4"><path d="M0.4 0.5 L1.6 0.5 L1.6 5.9 L0.4 5.9 M7.6 0.5 L6.4 0.5 L6.4 5.9 L7.6 5.9" stroke="#333" stroke-width="0.8" fill="none"/><circle cx="4" cy="3.2" r="0.9" fill="#222"/><rect x="1.6" y="2.9" width="1.5" height="0.6" fill="#444"/></svg>
<div class="t" style="left:986px;top:464.11px;font-size:6.5px;color:#6a5a52;">R</div>
<div style="left:945.5px;top:473.6px;width:38.8px;height:1.0px;background:#a0a0a0"></div>
<svg style="position:absolute;left:947.4px;top:476.2px" width="8.2" height="6.6" viewBox="0 0 8.2 6.6"><path d="M0.4 4.4 Q2.8 0.6 5.4 0.8 Q7.4 1.2 7.8 3.4 Q6.4 6.2 3.6 6 Q2 5.6 0.4 4.4Z" fill="#d8d8d8" stroke="#555" stroke-width="0.8"/><ellipse cx="4.6" cy="3.6" rx="2.4" ry="1.8" fill="#22a8f2"/><path d="M0.6 4.3 Q3 1 5.6 1 Q7.3 1.4 7.6 3" stroke="#333" stroke-width="0.9" fill="none"/></svg>
<svg style="position:absolute;left:960.8px;top:475.3px" width="6.4" height="8" viewBox="0 0 6.4 8"><path d="M1.4 3.4 L1.4 1.6 Q1.4 0.4 3 0.4 Q4.6 0.4 4.6 1.6 L4.6 2" stroke="#4a4a4a" stroke-width="1" fill="none"/><rect x="0.5" y="3.3" width="5.4" height="4.4" rx="0.6" fill="#5a5a5a"/><rect x="1.6" y="4.3" width="3.2" height="0.9" fill="#bbb"/><rect x="1.6" y="5.9" width="3.2" height="0.9" fill="#999"/></svg>
<svg style="position:absolute;left:973.2px;top:476.4px" width="8" height="6.4" viewBox="0 0 8 6.4"><path d="M0.4 0.5 L1.6 0.5 L1.6 5.9 L0.4 5.9 M7.6 0.5 L6.4 0.5 L6.4 5.9 L7.6 5.9" stroke="#333" stroke-width="0.8" fill="none"/><circle cx="4" cy="3.2" r="0.9" fill="#222"/><rect x="1.6" y="2.9" width="1.5" height="0.6" fill="#444"/></svg>
<div class="t" style="left:986px;top:476.16px;font-size:6.5px;color:#6a5a52;">R</div>
<div style="left:945.5px;top:485.65px;width:38.8px;height:1.0px;background:#a0a0a0"></div>
<svg style="position:absolute;left:947.4px;top:488.25px" width="8.2" height="6.6" viewBox="0 0 8.2 6.6"><path d="M0.4 4.4 Q2.8 0.6 5.4 0.8 Q7.4 1.2 7.8 3.4 Q6.4 6.2 3.6 6 Q2 5.6 0.4 4.4Z" fill="#d8d8d8" stroke="#555" stroke-width="0.8"/><ellipse cx="4.6" cy="3.6" rx="2.4" ry="1.8" fill="#22a8f2"/><path d="M0.6 4.3 Q3 1 5.6 1 Q7.3 1.4 7.6 3" stroke="#333" stroke-width="0.9" fill="none"/></svg>
<svg style="position:absolute;left:960.8px;top:487.35px" width="6.4" height="8" viewBox="0 0 6.4 8"><path d="M1.4 3.4 L1.4 1.6 Q1.4 0.4 3 0.4 Q4.6 0.4 4.6 1.6 L4.6 2" stroke="#4a4a4a" stroke-width="1" fill="none"/><rect x="0.5" y="3.3" width="5.4" height="4.4" rx="0.6" fill="#5a5a5a"/><rect x="1.6" y="4.3" width="3.2" height="0.9" fill="#bbb"/><rect x="1.6" y="5.9" width="3.2" height="0.9" fill="#999"/></svg>
<svg style="position:absolute;left:973.2px;top:488.45px" width="8" height="6.4" viewBox="0 0 8 6.4"><path d="M0.4 0.5 L1.6 0.5 L1.6 5.9 L0.4 5.9 M7.6 0.5 L6.4 0.5 L6.4 5.9 L7.6 5.9" stroke="#333" stroke-width="0.8" fill="none"/><circle cx="4" cy="3.2" r="0.9" fill="#222"/><rect x="1.6" y="2.9" width="1.5" height="0.6" fill="#444"/></svg>
<div class="t" style="left:986px;top:488.2px;font-size:6.5px;color:#6a5a52;">V</div>
<div style="left:945.5px;top:497.7px;width:38.8px;height:1.0px;background:#a0a0a0"></div>
<svg style="position:absolute;left:947.4px;top:500.3px" width="8.2" height="6.6" viewBox="0 0 8.2 6.6"><path d="M0.4 4.4 Q2.8 0.6 5.4 0.8 Q7.4 1.2 7.8 3.4 Q6.4 6.2 3.6 6 Q2 5.6 0.4 4.4Z" fill="#d8d8d8" stroke="#555" stroke-width="0.8"/><ellipse cx="4.6" cy="3.6" rx="2.4" ry="1.8" fill="#22a8f2"/><path d="M0.6 4.3 Q3 1 5.6 1 Q7.3 1.4 7.6 3" stroke="#333" stroke-width="0.9" fill="none"/></svg>
<svg style="position:absolute;left:960.8px;top:499.4px" width="6.4" height="8" viewBox="0 0 6.4 8"><path d="M1.4 3.4 L1.4 1.6 Q1.4 0.4 3 0.4 Q4.6 0.4 4.6 1.6 L4.6 2" stroke="#4a4a4a" stroke-width="1" fill="none"/><rect x="0.5" y="3.3" width="5.4" height="4.4" rx="0.6" fill="#5a5a5a"/><rect x="1.6" y="4.3" width="3.2" height="0.9" fill="#bbb"/><rect x="1.6" y="5.9" width="3.2" height="0.9" fill="#999"/></svg>
<svg style="position:absolute;left:973.2px;top:500.5px" width="8" height="6.4" viewBox="0 0 8 6.4"><path d="M0.4 0.5 L1.6 0.5 L1.6 5.9 L0.4 5.9 M7.6 0.5 L6.4 0.5 L6.4 5.9 L7.6 5.9" stroke="#333" stroke-width="0.8" fill="none"/><circle cx="4" cy="3.2" r="0.9" fill="#222"/><rect x="1.6" y="2.9" width="1.5" height="0.6" fill="#444"/></svg>
<div class="t" style="left:986px;top:500.25px;font-size:6.5px;color:#6a5a52;">V</div>
<div style="left:945.5px;top:509.75px;width:38.8px;height:1.0px;background:#a0a0a0"></div>
<svg style="position:absolute;left:947.4px;top:512.35px" width="8.2" height="6.6" viewBox="0 0 8.2 6.6"><path d="M0.4 4.4 Q2.8 0.6 5.4 0.8 Q7.4 1.2 7.8 3.4 Q6.4 6.2 3.6 6 Q2 5.6 0.4 4.4Z" fill="#d8d8d8" stroke="#555" stroke-width="0.8"/><ellipse cx="4.6" cy="3.6" rx="2.4" ry="1.8" fill="#22a8f2"/><path d="M0.6 4.3 Q3 1 5.6 1 Q7.3 1.4 7.6 3" stroke="#333" stroke-width="0.9" fill="none"/></svg>
<svg style="position:absolute;left:960.8px;top:511.45px" width="6.4" height="8" viewBox="0 0 6.4 8"><path d="M1.4 3.4 L1.4 1.6 Q1.4 0.4 3 0.4 Q4.6 0.4 4.6 1.6 L4.6 2" stroke="#4a4a4a" stroke-width="1" fill="none"/><rect x="0.5" y="3.3" width="5.4" height="4.4" rx="0.6" fill="#5a5a5a"/><rect x="1.6" y="4.3" width="3.2" height="0.9" fill="#bbb"/><rect x="1.6" y="5.9" width="3.2" height="0.9" fill="#999"/></svg>
<svg style="position:absolute;left:973.2px;top:512.55px" width="8" height="6.4" viewBox="0 0 8 6.4"><path d="M0.4 0.5 L1.6 0.5 L1.6 5.9 L0.4 5.9 M7.6 0.5 L6.4 0.5 L6.4 5.9 L7.6 5.9" stroke="#333" stroke-width="0.8" fill="none"/><circle cx="4" cy="3.2" r="0.9" fill="#222"/><rect x="1.6" y="2.9" width="1.5" height="0.6" fill="#444"/></svg>
<div class="t" style="left:986px;top:512.3px;font-size:6.5px;color:#6a5a52;">M</div>
<div style="left:945.5px;top:521.8px;width:38.8px;height:1.0px;background:#a0a0a0"></div>
<svg style="position:absolute;left:947.4px;top:524.4px" width="8.2" height="6.6" viewBox="0 0 8.2 6.6"><path d="M0.4 4.4 Q2.8 0.6 5.4 0.8 Q7.4 1.2 7.8 3.4 Q6.4 6.2 3.6 6 Q2 5.6 0.4 4.4Z" fill="#d8d8d8" stroke="#555" stroke-width="0.8"/><ellipse cx="4.6" cy="3.6" rx="2.4" ry="1.8" fill="#22a8f2"/><path d="M0.6 4.3 Q3 1 5.6 1 Q7.3 1.4 7.6 3" stroke="#333" stroke-width="0.9" fill="none"/></svg>
<svg style="position:absolute;left:960.8px;top:523.5px" width="6.4" height="8" viewBox="0 0 6.4 8"><path d="M1.4 3.4 L1.4 1.6 Q1.4 0.4 3 0.4 Q4.6 0.4 4.6 1.6 L4.6 2" stroke="#4a4a4a" stroke-width="1" fill="none"/><rect x="0.5" y="3.3" width="5.4" height="4.4" rx="0.6" fill="#5a5a5a"/><rect x="1.6" y="4.3" width="3.2" height="0.9" fill="#bbb"/><rect x="1.6" y="5.9" width="3.2" height="0.9" fill="#999"/></svg>
<svg style="position:absolute;left:973.2px;top:524.6px" width="8" height="6.4" viewBox="0 0 8 6.4"><path d="M0.4 0.5 L1.6 0.5 L1.6 5.9 L0.4 5.9 M7.6 0.5 L6.4 0.5 L6.4 5.9 L7.6 5.9" stroke="#333" stroke-width="0.8" fill="none"/><circle cx="4" cy="3.2" r="0.9" fill="#222"/><rect x="1.6" y="2.9" width="1.5" height="0.6" fill="#444"/></svg>
<div class="t" style="left:986px;top:524.35px;font-size:6.5px;color:#6a5a52;">M</div>
<div style="left:945.5px;top:533.85px;width:38.8px;height:1.0px;background:#a0a0a0"></div>
<svg style="position:absolute;left:947.4px;top:536.45px" width="8.2" height="6.6" viewBox="0 0 8.2 6.6"><path d="M0.4 4.4 Q2.8 0.6 5.4 0.8 Q7.4 1.2 7.8 3.4 Q6.4 6.2 3.6 6 Q2 5.6 0.4 4.4Z" fill="#d8d8d8" stroke="#555" stroke-width="0.8"/><ellipse cx="4.6" cy="3.6" rx="2.4" ry="1.8" fill="#22a8f2"/><path d="M0.6 4.3 Q3 1 5.6 1 Q7.3 1.4 7.6 3" stroke="#333" stroke-width="0.9" fill="none"/></svg>
<svg style="position:absolute;left:960.8px;top:535.55px" width="6.4" height="8" viewBox="0 0 6.4 8"><path d="M1.4 3.4 L1.4 1.6 Q1.4 0.4 3 0.4 Q4.6 0.4 4.6 1.6 L4.6 2" stroke="#4a4a4a" stroke-width="1" fill="none"/><rect x="0.5" y="3.3" width="5.4" height="4.4" rx="0.6" fill="#5a5a5a"/><rect x="1.6" y="4.3" width="3.2" height="0.9" fill="#bbb"/><rect x="1.6" y="5.9" width="3.2" height="0.9" fill="#999"/></svg>
<svg style="position:absolute;left:973.2px;top:536.65px" width="8" height="6.4" viewBox="0 0 8 6.4"><path d="M0.4 0.5 L1.6 0.5 L1.6 5.9 L0.4 5.9 M7.6 0.5 L6.4 0.5 L6.4 5.9 L7.6 5.9" stroke="#333" stroke-width="0.8" fill="none"/><circle cx="4" cy="3.2" r="0.9" fill="#222"/><rect x="1.6" y="2.9" width="1.5" height="0.6" fill="#444"/></svg>
<div class="t" style="left:986px;top:536.4px;font-size:6.5px;color:#6a5a52;">S</div>
<div style="left:945.5px;top:545.9px;width:38.8px;height:1.0px;background:#a0a0a0"></div>
<svg style="position:absolute;left:947.4px;top:548.5px" width="8.2" height="6.6" viewBox="0 0 8.2 6.6"><path d="M0.4 4.4 Q2.8 0.6 5.4 0.8 Q7.4 1.2 7.8 3.4 Q6.4 6.2 3.6 6 Q2 5.6 0.4 4.4Z" fill="#d8d8d8" stroke="#555" stroke-width="0.8"/><ellipse cx="4.6" cy="3.6" rx="2.4" ry="1.8" fill="#333"/><path d="M0.6 4.3 Q3 1 5.6 1 Q7.3 1.4 7.6 3" stroke="#333" stroke-width="0.9" fill="none"/></svg>
<svg style="position:absolute;left:960.8px;top:547.6px" width="6.4" height="8" viewBox="0 0 6.4 8"><path d="M1.4 3.4 L1.4 1.6 Q1.4 0.4 3 0.4 Q4.6 0.4 4.6 1.6 L4.6 2" stroke="#4a4a4a" stroke-width="1" fill="none"/><rect x="0.5" y="3.3" width="5.4" height="4.4" rx="0.6" fill="#5a5a5a"/><rect x="1.6" y="4.3" width="3.2" height="0.9" fill="#bbb"/><rect x="1.6" y="5.9" width="3.2" height="0.9" fill="#999"/></svg>
<svg style="position:absolute;left:973.2px;top:548.7px" width="8" height="6.4" viewBox="0 0 8 6.4"><path d="M0.4 0.5 L1.6 0.5 L1.6 5.9 L0.4 5.9 M7.6 0.5 L6.4 0.5 L6.4 5.9 L7.6 5.9" stroke="#333" stroke-width="0.8" fill="none"/><circle cx="4" cy="3.2" r="0.9" fill="#222"/><rect x="1.6" y="2.9" width="1.5" height="0.6" fill="#444"/></svg>
<div class="t" style="left:986px;top:548.45px;font-size:6.5px;color:#6a5a52;">M</div>
<div style="left:945.5px;top:556px;width:38.8px;height:1px;background:#a0a0a0"></div>
<div style="left:989.4px;top:446.5px;width:8.4px;height:110.0px;background:#f0f0f0"></div>
<div style="left:989.4px;top:468px;width:8.4px;height:5px;background:#cdcdcd"></div>
<svg style="position:absolute;left:991.4px;top:451px" width="4.4" height="2.6" viewBox="0 0 4.4 2.6"><path d="M0.3 2.3 L2.2 0.4 L4.1 2.3" stroke="#aaa" stroke-width="0.7" fill="none"/></svg>
<svg style="position:absolute;left:991.4px;top:551px" width="4.4" height="2.6" viewBox="0 0 4.4 2.6"><path d="M0.3 0.3 L2.2 2.2 L4.1 0.3" stroke="#aaa" stroke-width="0.7" fill="none"/></svg>
<div style="left:133px;top:539px;width:808px;height:18px;background:#f5f5f7;border:1px solid #dfe1e9"></div>
<div class="t" style="left:135.8px;top:541.29px;font-size:7px;color:#707070;transform:scaleX(0.976);transform-origin:0 0;">Bindings</div>
<div style="left:166px;top:543.2px;width:746px;height:3.6px;background-image:radial-gradient(circle at 0.5px 0.5px,#c4c4cc 0.55px,transparent 0.7px),radial-gradient(circle at 1.5px 1.5px,#c4c4cc 0.55px,transparent 0.7px);background-size:2px 2px"></div>
<svg style="position:absolute;left:914.4px;top:543.0px" width="4.4" height="2.4" viewBox="0 0 4.4 2.4"><path d="M0 0 L4.4 0 L2.2 2.4Z" fill="#222"/></svg>
<svg style="position:absolute;left:923.8px;top:541.6px" width="3.6" height="6" viewBox="0 0 3.6 6"><rect x="0.8" y="0.4" width="2" height="3.4" fill="none" stroke="#222" stroke-width="0.8"/><rect x="0" y="3.7" width="3.6" height="0.7" fill="#222"/><rect x="1.5" y="4.2" width="0.6" height="1.8" fill="#222"/></svg>
<svg style="position:absolute;left:931.9px;top:541.9px" width="5.4" height="5.4" viewBox="0 0 5.4 5.4"><path d="M0.3 0.3 L5.1 5.1 M5.1 0.3 L0.3 5.1" stroke="#222" stroke-width="1.1"/></svg>
<div style="left:134px;top:550.6px;width:806px;height:6.4px;background:#fff"></div>
<div style="left:137px;top:554px;width:24px;height:3px;border:1px solid #bbb;border-bottom:none;background:#fff"></div>
<div style="left:161px;top:555px;width:27px;height:2px;border:1px solid #bbb;border-bottom:none"></div>
<div class="t" style="left:135.5px;top:40.29px;font-size:5.5px;color:#f4f6fa;font-weight:bold;transform:scaleX(0.748);transform-origin:0 0;">Zoom</div>
<div style="left:138px;top:50.8px;width:1.8px;height:74.2px;background:#e8e8e8"></div>
<div style="left:146px;top:51.0px;width:1px;height:0.8px;background:#e4e8ee"></div>
<div style="left:146px;top:60.2px;width:1px;height:0.8px;background:#e4e8ee"></div>
<div style="left:146px;top:69.4px;width:1px;height:0.8px;background:#e4e8ee"></div>
<div style="left:146px;top:78.6px;width:1px;height:0.8px;background:#e4e8ee"></div>
<div style="left:146px;top:87.8px;width:1px;height:0.8px;background:#e4e8ee"></div>
<div style="left:146px;top:97.0px;width:1px;height:0.8px;background:#e4e8ee"></div>
<div style="left:146px;top:106.2px;width:1px;height:0.8px;background:#e4e8ee"></div>
<div style="left:146px;top:115.4px;width:1px;height:0.8px;background:#e4e8ee"></div>
<div style="left:146px;top:124.6px;width:1px;height:0.8px;background:#e4e8ee"></div>
<div style="left:146px;top:133.8px;width:1px;height:0.8px;background:#e4e8ee"></div>
<div style="left:134.7px;top:105px;width:6.5px;height:5.8px;background:#f4f4f4;border:1px solid #c0c0c0;border-right:none"></div>
<div style="left:140.5px;top:105.3px;width:0;height:0;border-top:2.6px solid transparent;border-bottom:2.6px solid transparent;border-left:2.8px solid #d0d0d0"></div>
<div style="left:154px;top:42px;width:619px;height:350px;background:#000;border-radius:6px;overflow:hidden"></div>
<div style="left:156px;top:247px;width:224px;height:144px;border-radius:24px;background:#0b0a0a;box-shadow:inset 0 0 10px 3px #000, inset 0 0 26px 8px #120404"></div>
<div style="left:181.5px;top:65.3px;width:167.5px;height:166.5px;background:#1f1f1f;border-top:1.4px solid #a02828;border-left:1px solid #6a1010;border-right:1px solid #4a0c0c"></div>
<div style="left:182.5px;top:66.9px;width:165.5px;height:1.1px;background:#7a7a7a"></div>
<div class="grn" style="left:162px;top:48.8px;width:12px;height:20.0px;"><span style="display:inline-block;font-size:30.4px;line-height:0.98;color:#fff;font-weight:bold;transform:translateY(0px) scale(0.1633,0.2500);white-space:nowrap;text-align:center;flex:none;transform-origin:50% 50%">VID<br>BRT</span></div>
<svg style="position:absolute;left:179.2px;top:50.2px" width="12.6" height="12.6" viewBox="-10 -10 20 20"><defs><radialGradient id="kg1" cx="0.42" cy="0.38" r="0.65"><stop offset="0" stop-color="#d2d2d2"/><stop offset="0.7" stop-color="#a8a8a8"/><stop offset="1" stop-color="#8a8a8a"/></radialGradient></defs><circle r="9.8" fill="url(#kg1)"/><g transform="rotate(0)"><rect x="-9.6" y="-3.2" width="19.2" height="2.4" fill="#c6c6c6" opacity="0.8"/><rect x="-9.6" y="-0.8" width="19.2" height="1.6" fill="#4a4a4a"/><rect x="-9.6" y="0.8" width="19.2" height="2.6" fill="#d8d8d8" opacity="0.8"/></g></svg>
<svg style="position:absolute;left:163.8px;top:72.8px" width="12" height="12" viewBox="-10 -10 20 20"><defs><radialGradient id="kg2" cx="0.42" cy="0.38" r="0.65"><stop offset="0" stop-color="#d2d2d2"/><stop offset="0.7" stop-color="#a8a8a8"/><stop offset="1" stop-color="#8a8a8a"/></radialGradient></defs><circle r="9.8" fill="url(#kg2)"/><g transform="rotate(25)"><rect x="-9.6" y="-3.2" width="19.2" height="2.4" fill="#c6c6c6" opacity="0.8"/><rect x="-9.6" y="-0.8" width="19.2" height="1.6" fill="#4a4a4a"/><rect x="-9.6" y="0.8" width="19.2" height="2.6" fill="#d8d8d8" opacity="0.8"/></g></svg>
<div class="osb" style="left:201.5px;top:48px;width:15.0px;height:14.5px;"></div>
<div class="osb" style="left:223.3px;top:48.5px;width:14.7px;height:14.5px;"></div>
<div class="osb" style="left:245px;top:49px;width:14.6px;height:14.7px;"></div>
<div class="osb" style="left:265.2px;top:49px;width:15.1px;height:14.7px;"></div>
<div class="osb" style="left:285px;top:49px;width:15px;height:14.7px;"></div>
<div class="osb" style="left:305px;top:48px;width:15px;height:14.7px;"></div>
<svg style="position:absolute;left:328.9px;top:50.8px" width="14.8" height="14.8" viewBox="-10 -10 20 20"><defs><radialGradient id="kg3" cx="0.42" cy="0.38" r="0.65"><stop offset="0" stop-color="#d2d2d2"/><stop offset="0.7" stop-color="#a8a8a8"/><stop offset="1" stop-color="#8a8a8a"/></radialGradient></defs><circle r="9.8" fill="url(#kg3)"/><g transform="rotate(-40)"><rect x="-9.6" y="-3.2" width="19.2" height="2.4" fill="#c6c6c6" opacity="0.8"/><rect x="-9.6" y="-0.8" width="19.2" height="1.6" fill="#4a4a4a"/><rect x="-9.6" y="0.8" width="19.2" height="2.6" fill="#d8d8d8" opacity="0.8"/></g></svg>
<div class="t" style="left:346px;top:49.6px;height:4px;width:10px;display:flex;align-items:center"><span style="display:inline-block;font-size:13.6px;line-height:1.0;color:#e8e8f0;font-weight:bold;transform:translateY(0px) scale(0.2500,0.2500);white-space:nowrap;text-align:center;flex:none;transform-origin:0 50%">DAY</span></div>
<div class="t" style="left:346px;top:55.4px;height:4px;width:10px;display:flex;align-items:center"><span style="display:inline-block;font-size:13.6px;line-height:1.0;color:#e8e8f0;font-weight:bold;transform:translateY(0px) scale(0.2500,0.2500);white-space:nowrap;text-align:center;flex:none;transform-origin:0 50%">NT</span></div>
<div class="t" style="left:346px;top:63.3px;height:4px;width:10px;display:flex;align-items:center"><span style="display:inline-block;font-size:13.6px;line-height:1.0;color:#e8e8f0;font-weight:bold;transform:translateY(0px) scale(0.2500,0.2500);white-space:nowrap;text-align:center;flex:none;transform-origin:0 50%">OFF</span></div>
<svg style="position:absolute;left:0;top:0;overflow:visible" width="1" height="1"><line x1="342.42" y1="54.04" x2="345.7" y2="51.6" stroke="#aaa" stroke-width="0.5"/></svg>
<svg style="position:absolute;left:0;top:0;overflow:visible" width="1" height="1"><line x1="343.67" y1="57.59" x2="345.7" y2="57.4" stroke="#aaa" stroke-width="0.5"/></svg>
<svg style="position:absolute;left:0;top:0;overflow:visible" width="1" height="1"><line x1="342.27" y1="62.57" x2="345.7" y2="65.3" stroke="#aaa" stroke-width="0.5"/></svg>
<div class="osb" style="left:165px;top:93.4px;width:11.3px;height:11.3px;"></div>
<div class="osb" style="left:165px;top:111.9px;width:11.3px;height:11.3px;"></div>
<div class="osb" style="left:165px;top:128.2px;width:11.3px;height:11.3px;"></div>
<div class="osb" style="left:165px;top:146px;width:11.3px;height:11.4px;"></div>
<div class="osb" style="left:165px;top:163.4px;width:11.3px;height:11.3px;"></div>
<div class="osb" style="left:165px;top:180.6px;width:11.3px;height:11.6px;"></div>
<div class="osb" style="left:165px;top:198.2px;width:11.3px;height:11.3px;"><span style="display:inline-block;font-size:13.2px;line-height:1.0;color:#fff;font-weight:bold;transform:translateY(0px) scale(0.2396,0.2500);white-space:nowrap;text-align:center;flex:none;transform-origin:50% 50%">FCR</span></div>
<div class="osb" style="left:165px;top:215.5px;width:11.3px;height:11.3px;"><span style="display:inline-block;font-size:13.2px;line-height:1.0;color:#fff;font-weight:bold;transform:translateY(0px) scale(0.2435,0.2500);white-space:nowrap;text-align:center;flex:none;transform-origin:50% 50%">WPN</span></div>
<div class="osb sm" style="left:350.4px;top:71.4px;width:11.2px;height:11.2px;"><i class="dot"></i></div>
<div class="osb sm" style="left:350.4px;top:90.3px;width:11.2px;height:11.7px;"><i class="dot"></i></div>
<div class="osb sm" style="left:350.4px;top:111px;width:11.2px;height:11.7px;"><i class="dot"></i></div>
<div class="osb sm" style="left:350.4px;top:128px;width:11.2px;height:11.5px;"><i class="dot"></i></div>
<div class="osb sm" style="left:350.4px;top:146.6px;width:11.2px;height:11.0px;"><i class="dot"></i></div>
<div class="osb sm" style="left:350.4px;top:168.8px;width:11.2px;height:10.8px;"><i class="dot"></i></div>
<div class="osb" style="left:350.4px;top:190px;width:11.4px;height:10.7px;"><span style="display:inline-block;font-size:13.2px;line-height:1.0;color:#fff;font-weight:bold;transform:translateY(0px) scale(0.2954,0.2500);white-space:nowrap;text-align:center;flex:none;transform-origin:50% 50%">VID</span></div>
<div class="osb" style="left:350.4px;top:210.9px;width:11.4px;height:11.1px;"><span style="display:inline-block;font-size:13.2px;line-height:1.0;color:#fff;font-weight:bold;transform:translateY(0px) scale(0.2435,0.2500);white-space:nowrap;text-align:center;flex:none;transform-origin:50% 50%">COM</span></div>
<div class="osb" style="left:181.4px;top:234.2px;width:14.9px;height:11.8px;"><span style="display:inline-block;font-size:24px;line-height:1.0;color:#fff;font-weight:bold;transform:translateY(0px) scale(0.2354,0.2500);white-space:nowrap;text-align:center;flex:none;transform-origin:50% 50%">TSD</span></div>
<div class="osb" style="left:205.2px;top:234.2px;width:11.3px;height:11.3px;"><span style="display:inline-block;font-size:24px;line-height:1.0;color:#fff;font-weight:bold;transform:translateY(0px) scale(0.2501,0.2500);white-space:nowrap;text-align:center;flex:none;transform-origin:50% 50%">M</span></div>
<div class="osb" style="left:225.4px;top:234.2px;width:11.4px;height:11.8px;"></div>
<div class="osb" style="left:245.4px;top:234.2px;width:11.3px;height:11.8px;"></div>
<div class="osb" style="left:265.6px;top:234.2px;width:11.1px;height:11.8px;"></div>
<div class="osb" style="left:285.6px;top:234.2px;width:11.4px;height:11.8px;"></div>
<div class="osb" style="left:308.2px;top:233.8px;width:11.6px;height:11.7px;"></div>
<div class="osb" style="left:329.6px;top:234.2px;width:14.4px;height:11.8px;"><span style="display:inline-block;font-size:24px;line-height:1.0;color:#fff;font-weight:bold;transform:translateY(0px) scale(0.2903,0.2500);white-space:nowrap;text-align:center;flex:none;transform-origin:50% 50%">A/C</span></div>
<div class="ph mcu" style="left:238.8px;top:121.7px;width:44.7px;height:45.3px;"><span style="display:inline-block;font-size:24.8px;line-height:1.2;color:#fff;font-weight:bold;transform:translateY(0px) scale(0.2172,0.2500);white-space:nowrap;text-align:center;flex:none;transform-origin:50% 50%">PLACEHOLDER<br>FOR LEFT MCU</span></div>
<div style="left:368.9px;top:47.3px;width:21.8px;height:19.4px;border-radius:50%;background:#fff;border:2.2px solid #6e6e6e;box-shadow:0 0 0 0.6px #111"></div>
<div class="t" style="left:368.9px;top:50.6px;width:21.8px;text-align:center;font-size:6.4px;color:#f41c20;font-weight:bold;line-height:0.98;letter-spacing:-0.1px">show<br>hide</div>
<div class="osb" style="left:402px;top:49.1px;width:17.6px;height:11.3px;"><span style="display:inline-block;font-size:25.2px;line-height:1.0;color:#fff;font-weight:bold;transform:translateY(0px) scale(0.2404,0.2500);white-space:nowrap;text-align:center;flex:none;transform-origin:50% 50%">TAD</span></div>
<div class="osb" style="left:427px;top:49.1px;width:17.7px;height:11.3px;"><span style="display:inline-block;font-size:25.2px;line-height:1.0;color:#fff;font-weight:bold;transform:translateY(0px) scale(0.2317,0.2500);white-space:nowrap;text-align:center;flex:none;transform-origin:50% 50%">FCR</span></div>
<div class="osb" style="left:453.6px;top:49.1px;width:17.9px;height:11.3px;"><span style="display:inline-block;font-size:25.2px;line-height:1.0;color:#fff;font-weight:bold;transform:translateY(0px) scale(0.2316,0.2500);white-space:nowrap;text-align:center;flex:none;transform-origin:50% 50%">PNV</span></div>
<div class="osb" style="left:479.9px;top:49.1px;width:17.8px;height:11.3px;"><span style="display:inline-block;font-size:25.2px;line-height:1.0;color:#fff;font-weight:bold;transform:translateY(0px) scale(0.2764,0.2500);white-space:nowrap;text-align:center;flex:none;transform-origin:50% 50%">G/S</span></div>
<svg style="position:absolute;left:508.5px;top:48.5px" width="15.0" height="15.0" viewBox="-10 -10 20 20"><defs><radialGradient id="kg4" cx="0.42" cy="0.38" r="0.65"><stop offset="0" stop-color="#d2d2d2"/><stop offset="0.7" stop-color="#a8a8a8"/><stop offset="1" stop-color="#8a8a8a"/></radialGradient></defs><circle r="9.8" fill="url(#kg4)"/><g transform="rotate(-40)"><rect x="-9.6" y="-3.2" width="19.2" height="2.4" fill="#c6c6c6" opacity="0.8"/><rect x="-9.6" y="-0.8" width="19.2" height="1.6" fill="#4a4a4a"/><rect x="-9.6" y="0.8" width="19.2" height="2.6" fill="#d8d8d8" opacity="0.8"/></g></svg>
<div class="t" style="left:525.5px;top:46.9px;height:4px;width:10px;display:flex;align-items:center"><span style="display:inline-block;font-size:13.6px;line-height:1.0;color:#e8e8f0;font-weight:bold;transform:translateY(0px) scale(0.2500,0.2500);white-space:nowrap;text-align:center;flex:none;transform-origin:0 50%">DAY</span></div>
<div class="t" style="left:525.5px;top:52.5px;height:4px;width:10px;display:flex;align-items:center"><span style="display:inline-block;font-size:13.6px;line-height:1.0;color:#e8e8f0;font-weight:bold;transform:translateY(0px) scale(0.2500,0.2500);white-space:nowrap;text-align:center;flex:none;transform-origin:0 50%">NT</span></div>
<div class="t" style="left:525.5px;top:61.2px;height:4px;width:10px;display:flex;align-items:center"><span style="display:inline-block;font-size:13.6px;line-height:1.0;color:#e8e8f0;font-weight:bold;transform:translateY(0px) scale(0.2500,0.2500);white-space:nowrap;text-align:center;flex:none;transform-origin:0 50%">OFF</span></div>
<svg style="position:absolute;left:0;top:0;overflow:visible" width="1" height="1"><line x1="522.01" y1="51.51" x2="525.2" y2="48.9" stroke="#aaa" stroke-width="0.5"/></svg>
<svg style="position:absolute;left:0;top:0;overflow:visible" width="1" height="1"><line x1="523.41" y1="54.83" x2="525.2" y2="54.5" stroke="#aaa" stroke-width="0.5"/></svg>
<svg style="position:absolute;left:0;top:0;overflow:visible" width="1" height="1"><line x1="521.98" y1="60.53" x2="525.2" y2="63.2" stroke="#aaa" stroke-width="0.5"/></svg>
<div class="grn" style="left:367.2px;top:75.7px;width:10.0px;height:14.7px;"><span style="display:inline-block;font-size:27.2px;line-height:1.0;color:#fff;font-weight:bold;transform:translateY(0px) scale(0.2042,0.2500);white-space:nowrap;text-align:center;flex:none;transform-origin:50% 50%">LEV</span></div>
<div class="grn" style="left:365.7px;top:101.8px;width:10.5px;height:14.7px;"><i style="display:block;width:5px;height:1.4px;background:#e8e8e8"></i></div>
<div class="grn" style="left:369px;top:133.3px;width:10.8px;height:14.5px;"><span style="display:inline-block;font-size:12px;line-height:1.0;color:#fff;font-weight:bold;transform:translateY(0px) scale(0.2500,0.2500);white-space:nowrap;text-align:center;flex:none;transform-origin:50% 50%">&#8226;&#8226;</span></div>
<div class="grn" style="left:368.2px;top:172px;width:9.8px;height:14.4px;"><span style="display:inline-block;font-size:24px;line-height:1.0;color:#fff;font-weight:bold;transform:translateY(0px) scale(0.2185,0.2500);white-space:nowrap;text-align:center;flex:none;transform-origin:50% 50%">EL</span></div>
<div class="grn" style="left:385.4px;top:202px;width:10.4px;height:14.4px;"><span style="display:inline-block;font-size:14.0px;line-height:1.0;color:#fff;font-weight:bold;transform:translateY(0px) scale(0.2500,0.2500);white-space:nowrap;text-align:center;flex:none;transform-origin:50% 50%">AZ</span></div>
<svg style="position:absolute;left:381.0px;top:71.0px" width="15.2" height="15.2" viewBox="0 0 14 14"><path d="M4.6 0.6 Q7 1.4 9.4 0.6 Q12.6 1 13.2 4.2 Q12.6 7 13.3 9.6 Q12.8 12.8 9.6 13.3 Q7 12.6 4.4 13.3 Q1.2 12.8 0.7 9.6 Q1.4 7 0.7 4.4 Q1.2 1.2 4.6 0.6Z" fill="#a6a6a6"/><ellipse cx="7" cy="1.8" rx="2.2" ry="1.1" fill="#7a7a7a"/><path d="M2.8 11.2 L8.6 5.4 M4.7 12 L10.5 6.2" stroke="#151515" stroke-width="1"/><path d="M3.75 11.6 L9.55 5.8" stroke="#e8e8e8" stroke-width="0.7"/></svg>
<svg style="position:absolute;left:379.8px;top:99.6px" width="15.2" height="15.2" viewBox="0 0 14 14"><path d="M4.6 0.6 Q7 1.4 9.4 0.6 Q12.6 1 13.2 4.2 Q12.6 7 13.3 9.6 Q12.8 12.8 9.6 13.3 Q7 12.6 4.4 13.3 Q1.2 12.8 0.7 9.6 Q1.4 7 0.7 4.4 Q1.2 1.2 4.6 0.6Z" fill="#a6a6a6"/><ellipse cx="7" cy="1.8" rx="2.2" ry="1.1" fill="#7a7a7a"/><path d="M2.8 11.2 L8.6 5.4 M4.7 12 L10.5 6.2" stroke="#151515" stroke-width="1"/><path d="M3.75 11.6 L9.55 5.8" stroke="#e8e8e8" stroke-width="0.7"/></svg>
<div class="rock" style="left:384px;top:127px;width:11.8px;height:28.2px"><div class="rh"><svg width="100%" height="100%" viewBox="0 0 12 14" style="position:absolute;left:0;top:0"><path d="M6 1.8 L10 6.6 L7.7 6.6 L7.7 10.6 L4.3 10.6 L4.3 6.6 L2 6.6 Z" fill="#f2f2f2"/></svg></div><div class="rh rh2"><svg width="100%" height="100%" viewBox="0 0 12 14" style="position:absolute;left:0;top:0"><path d="M6 12.2 L10 7.4 L7.7 7.4 L7.7 3.4 L4.3 3.4 L4.3 7.4 L2 7.4 Z" fill="#f2f2f2"/></svg></div></div>
<div class="rock" style="left:384px;top:164.3px;width:11.8px;height:28.6px"><div class="rh"><svg width="100%" height="100%" viewBox="0 0 12 14" style="position:absolute;left:0;top:0"><path d="M6 1.8 L10 6.6 L7.7 6.6 L7.7 10.6 L4.3 10.6 L4.3 6.6 L2 6.6 Z" fill="#f2f2f2"/></svg></div><div class="rh rh2"><svg width="100%" height="100%" viewBox="0 0 12 14" style="position:absolute;left:0;top:0"><path d="M6 12.2 L10 7.4 L7.7 7.4 L7.7 3.4 L4.3 3.4 L4.3 7.4 L2 7.4 Z" fill="#f2f2f2"/></svg></div></div>
<div style="left:397.6px;top:65.3px;width:129.8px;height:131.2px;background:#f7f4f4;border-top:2.8px solid #861515;border-left:1.8px solid #7a1414;box-shadow:inset 0 1px 1px #c05050"></div>
<div class="ph gun" style="left:420.7px;top:100.7px;width:87.5px;height:62.3px;"><span style="display:inline-block;font-size:25.2px;line-height:1.0;color:#f4f4f4;font-weight:bold;transform:translateY(0px) scale(0.2235,0.2500);white-space:nowrap;text-align:center;flex:none;transform-origin:50% 50%">placeholder for Gunner screen</span></div>
<div class="rock pm" style="left:400.9px;top:201.5px;width:28.4px;height:13.7px"><b style="left:3px">+</b><b style="left:17px">&#8211;</b></div>
<div class="osb" style="left:436.3px;top:201.9px;width:17.2px;height:13.0px;"><span style="display:inline-block;font-size:12.8px;line-height:1.0;color:#fff;font-weight:bold;transform:translateY(0px) scale(0.2500,0.2500);white-space:nowrap;text-align:center;flex:none;transform-origin:50% 50%">AZ/EL</span></div>
<div class="osb" style="left:461.1px;top:201.9px;width:16.9px;height:13.0px;"><span style="display:inline-block;font-size:12.8px;line-height:1.0;color:#fff;font-weight:bold;transform:translateY(0px) scale(0.2500,0.2500);white-space:nowrap;text-align:center;flex:none;transform-origin:50% 50%">ACM</span></div>
<div class="osb" style="left:485.3px;top:201.9px;width:17.3px;height:13.0px;"><span style="display:inline-block;font-size:12.8px;line-height:1.0;color:#fff;font-weight:bold;transform:translateY(0px) scale(0.2500,0.2500);white-space:nowrap;text-align:center;flex:none;transform-origin:50% 50%">FREEZE</span></div>
<div class="osb" style="left:508.2px;top:201.9px;width:17.3px;height:13.0px;"><span style="display:inline-block;font-size:12.8px;line-height:1.0;color:#fff;font-weight:bold;transform:translateY(0px) scale(0.2500,0.2500);white-space:nowrap;text-align:center;flex:none;transform-origin:50% 50%">FILTER</span></div>
<div class="rock" style="left:531.7px;top:72.2px;width:10.3px;height:28.1px"><div class="rh"><svg width="100%" height="100%" viewBox="0 0 12 14" style="position:absolute;left:0;top:0"><path d="M6 1.8 L10 6.6 L7.7 6.6 L7.7 10.6 L4.3 10.6 L4.3 6.6 L2 6.6 Z" fill="#f2f2f2"/></svg></div><div class="rh rh2"><svg width="100%" height="100%" viewBox="0 0 12 14" style="position:absolute;left:0;top:0"><path d="M6 12.2 L10 7.4 L7.7 7.4 L7.7 3.4 L4.3 3.4 L4.3 7.4 L2 7.4 Z" fill="#f2f2f2"/></svg></div></div>
<div class="rock" style="left:531.7px;top:106.2px;width:10.3px;height:28.1px"><div class="rh"><svg width="100%" height="100%" viewBox="0 0 12 14" style="position:absolute;left:0;top:0"><path d="M6 1.8 L10 6.6 L7.7 6.6 L7.7 10.6 L4.3 10.6 L4.3 6.6 L2 6.6 Z" fill="#f2f2f2"/></svg></div><div class="rh rh2"><svg width="100%" height="100%" viewBox="0 0 12 14" style="position:absolute;left:0;top:0"><path d="M6 12.2 L10 7.4 L7.7 7.4 L7.7 3.4 L4.3 3.4 L4.3 7.4 L2 7.4 Z" fill="#f2f2f2"/></svg></div></div>
<div class="rock" style="left:531.7px;top:141.2px;width:10.3px;height:27.2px"><div class="rh"><svg width="100%" height="100%" viewBox="0 0 12 14" style="position:absolute;left:0;top:0"><path d="M6 1.8 L10 6.6 L7.7 6.6 L7.7 10.6 L4.3 10.6 L4.3 6.6 L2 6.6 Z" fill="#f2f2f2"/></svg></div><div class="rh rh2"><svg width="100%" height="100%" viewBox="0 0 12 14" style="position:absolute;left:0;top:0"><path d="M6 12.2 L10 7.4 L7.7 7.4 L7.7 3.4 L4.3 3.4 L4.3 7.4 L2 7.4 Z" fill="#f2f2f2"/></svg></div></div>
<div class="osb sm" style="left:531.7px;top:178px;width:10.3px;height:10.6px;"><i class="dot"></i></div>
<div class="grn" style="left:546.7px;top:78px;width:10.3px;height:14.7px;"><span style="display:inline-block;font-size:26.0px;line-height:1.0;color:#fff;font-weight:bold;transform:translateY(0px) scale(0.2162,0.2500);white-space:nowrap;text-align:center;flex:none;transform-origin:50% 50%">SY</span></div>
<div class="grn" style="left:546.6px;top:113.1px;width:10.4px;height:14.3px;"><span style="display:inline-block;font-size:12px;line-height:1.0;color:#fff;font-weight:bold;transform:translateY(0px) scale(0.2500,0.2500);white-space:nowrap;text-align:center;flex:none;transform-origin:50% 50%">BRT</span></div>
<div class="grn" style="left:546.6px;top:147.6px;width:10.4px;height:14.4px;"><span style="display:inline-block;font-size:12px;line-height:1.0;color:#fff;font-weight:bold;transform:translateY(0px) scale(0.2500,0.2500);white-space:nowrap;text-align:center;flex:none;transform-origin:50% 50%">CON</span></div>
<div class="grn" style="left:564.2px;top:51.1px;width:11.8px;height:19.6px;"><span style="display:inline-block;font-size:30.4px;line-height:0.98;color:#fff;font-weight:bold;transform:translateY(0px) scale(0.1633,0.2500);white-space:nowrap;text-align:center;flex:none;transform-origin:50% 50%">VID<br>BRT</span></div>
<svg style="position:absolute;left:582.2px;top:51.6px" width="13.0" height="13.0" viewBox="-10 -10 20 20"><defs><radialGradient id="kg5" cx="0.42" cy="0.38" r="0.65"><stop offset="0" stop-color="#d2d2d2"/><stop offset="0.7" stop-color="#a8a8a8"/><stop offset="1" stop-color="#8a8a8a"/></radialGradient></defs><circle r="9.8" fill="url(#kg5)"/><g transform="rotate(0)"><rect x="-9.6" y="-3.2" width="19.2" height="2.4" fill="#c6c6c6" opacity="0.8"/><rect x="-9.6" y="-0.8" width="19.2" height="1.6" fill="#4a4a4a"/><rect x="-9.6" y="0.8" width="19.2" height="2.6" fill="#d8d8d8" opacity="0.8"/></g></svg>
<svg style="position:absolute;left:567px;top:77.6px" width="12" height="12" viewBox="-10 -10 20 20"><defs><radialGradient id="kg6" cx="0.42" cy="0.38" r="0.65"><stop offset="0" stop-color="#d2d2d2"/><stop offset="0.7" stop-color="#a8a8a8"/><stop offset="1" stop-color="#8a8a8a"/></radialGradient></defs><circle r="9.8" fill="url(#kg6)"/><g transform="rotate(25)"><rect x="-9.6" y="-3.2" width="19.2" height="2.4" fill="#c6c6c6" opacity="0.8"/><rect x="-9.6" y="-0.8" width="19.2" height="1.6" fill="#4a4a4a"/><rect x="-9.6" y="0.8" width="19.2" height="2.6" fill="#d8d8d8" opacity="0.8"/></g></svg>
<div style="left:583.6px;top:68.6px;width:165.0px;height:166.8px;background:#1f1f1f;border-top:1px solid #8a8a8a;border-left:1px solid #333"></div>
<div class="osb" style="left:607.5px;top:51px;width:14.9px;height:14.4px;"></div>
<div class="osb" style="left:629.2px;top:50px;width:14.8px;height:14.9px;"></div>
<div class="osb" style="left:650.3px;top:51px;width:15.3px;height:14.4px;"></div>
<div class="osb" style="left:671.4px;top:51px;width:14.9px;height:14.4px;"></div>
<div class="osb" style="left:691.2px;top:51px;width:14.8px;height:14.4px;"></div>
<div class="osb" style="left:711px;top:51px;width:15.2px;height:14.4px;"></div>
<svg style="position:absolute;left:734.5px;top:52.0px" width="15.0" height="15.0" viewBox="-10 -10 20 20"><defs><radialGradient id="kg7" cx="0.42" cy="0.38" r="0.65"><stop offset="0" stop-color="#d2d2d2"/><stop offset="0.7" stop-color="#a8a8a8"/><stop offset="1" stop-color="#8a8a8a"/></radialGradient></defs><circle r="9.8" fill="url(#kg7)"/><g transform="rotate(-40)"><rect x="-9.6" y="-3.2" width="19.2" height="2.4" fill="#c6c6c6" opacity="0.8"/><rect x="-9.6" y="-0.8" width="19.2" height="1.6" fill="#4a4a4a"/><rect x="-9.6" y="0.8" width="19.2" height="2.6" fill="#d8d8d8" opacity="0.8"/></g></svg>
<div class="t" style="left:750.5px;top:50.7px;height:4px;width:10px;display:flex;align-items:center"><span style="display:inline-block;font-size:13.6px;line-height:1.0;color:#e8e8f0;font-weight:bold;transform:translateY(0px) scale(0.2500,0.2500);white-space:nowrap;text-align:center;flex:none;transform-origin:0 50%">DAY</span></div>
<div class="t" style="left:750.5px;top:56.4px;height:4px;width:10px;display:flex;align-items:center"><span style="display:inline-block;font-size:13.6px;line-height:1.0;color:#e8e8f0;font-weight:bold;transform:translateY(0px) scale(0.2500,0.2500);white-space:nowrap;text-align:center;flex:none;transform-origin:0 50%">NT</span></div>
<div class="t" style="left:750.5px;top:64.2px;height:4px;width:10px;display:flex;align-items:center"><span style="display:inline-block;font-size:13.6px;line-height:1.0;color:#e8e8f0;font-weight:bold;transform:translateY(0px) scale(0.2500,0.2500);white-space:nowrap;text-align:center;flex:none;transform-origin:0 50%">OFF</span></div>
<svg style="position:absolute;left:0;top:0;overflow:visible" width="1" height="1"><line x1="747.86" y1="54.81" x2="750.2" y2="52.7" stroke="#aaa" stroke-width="0.5"/></svg>
<svg style="position:absolute;left:0;top:0;overflow:visible" width="1" height="1"><line x1="749.44" y1="58.54" x2="750.2" y2="58.4" stroke="#aaa" stroke-width="0.5"/></svg>
<svg style="position:absolute;left:0;top:0;overflow:visible" width="1" height="1"><line x1="747.89" y1="64.14" x2="750.2" y2="66.2" stroke="#aaa" stroke-width="0.5"/></svg>
<div class="osb" style="left:567.9px;top:98.4px;width:11.8px;height:11.3px;"></div>
<div class="osb" style="left:567.9px;top:117px;width:11.8px;height:11.6px;"></div>
<div class="osb" style="left:567.9px;top:133.9px;width:11.8px;height:11.3px;"></div>
<div class="osb" style="left:567.9px;top:151px;width:11.8px;height:11.3px;"></div>
<div class="osb" style="left:567.9px;top:168.3px;width:11.8px;height:11.6px;"></div>
<div class="osb" style="left:567.9px;top:186px;width:11.8px;height:11.2px;"></div>
<div class="osb" style="left:567.9px;top:203.5px;width:11.8px;height:11.3px;"><span style="display:inline-block;font-size:13.2px;line-height:1.0;color:#fff;font-weight:bold;transform:translateY(0px) scale(0.2396,0.2500);white-space:nowrap;text-align:center;flex:none;transform-origin:50% 50%">FCR</span></div>
<div class="osb" style="left:567.9px;top:220.6px;width:11.8px;height:11.4px;"><span style="display:inline-block;font-size:13.2px;line-height:1.0;color:#fff;font-weight:bold;transform:translateY(0px) scale(0.2435,0.2500);white-space:nowrap;text-align:center;flex:none;transform-origin:50% 50%">WPN</span></div>
<div class="osb sm" style="left:752px;top:74px;width:11px;height:11.2px;"><i class="dot"></i></div>
<div class="osb" style="left:751.9px;top:97.4px;width:11.3px;height:11.5px;"></div>
<div class="osb" style="left:751.9px;top:117.6px;width:11.3px;height:11.3px;"></div>
<div class="osb" style="left:751.9px;top:134.7px;width:11.3px;height:11.3px;"></div>
<div class="osb" style="left:751.9px;top:153.6px;width:11.3px;height:11.3px;"></div>
<div class="osb" style="left:750.5px;top:174.9px;width:11.9px;height:11.6px;"></div>
<div class="osb" style="left:751.9px;top:196.4px;width:11.3px;height:11.9px;"><span style="display:inline-block;font-size:13.2px;line-height:1.0;color:#fff;font-weight:bold;transform:translateY(0px) scale(0.2954,0.2500);white-space:nowrap;text-align:center;flex:none;transform-origin:50% 50%">VID</span></div>
<div class="osb" style="left:751.9px;top:217.5px;width:11.3px;height:11.8px;"><span style="display:inline-block;font-size:13.2px;line-height:1.0;color:#fff;font-weight:bold;transform:translateY(0px) scale(0.2435,0.2500);white-space:nowrap;text-align:center;flex:none;transform-origin:50% 50%">COM</span></div>
<div class="osb" style="left:586px;top:238px;width:14.4px;height:12px;"><span style="display:inline-block;font-size:24px;line-height:1.0;color:#fff;font-weight:bold;transform:translateY(0px) scale(0.2375,0.2500);white-space:nowrap;text-align:center;flex:none;transform-origin:50% 50%">TSD</span></div>
<div class="osb" style="left:609.6px;top:237.4px;width:11.4px;height:11.2px;"><span style="display:inline-block;font-size:24px;line-height:1.0;color:#fff;font-weight:bold;transform:translateY(0px) scale(0.2701,0.2500);white-space:nowrap;text-align:center;flex:none;transform-origin:50% 50%">M</span></div>
<div class="osb" style="left:629.6px;top:238px;width:11.4px;height:12px;"></div>
<div class="osb" style="left:650px;top:238px;width:11.6px;height:12px;"></div>
<div class="osb" style="left:670px;top:238px;width:11.4px;height:12px;"></div>
<div class="osb" style="left:690px;top:238px;width:11.4px;height:12px;"></div>
<div class="osb" style="left:712.4px;top:237px;width:11.6px;height:11.6px;"></div>
<div class="osb" style="left:734px;top:238px;width:14.6px;height:12px;"><span style="display:inline-block;font-size:24px;line-height:1.0;color:#fff;font-weight:bold;transform:translateY(0px) scale(0.2231,0.2500);white-space:nowrap;text-align:center;flex:none;transform-origin:50% 50%">ACC</span></div>
<div class="ph mcu" style="left:642px;top:124.2px;width:44.7px;height:45.2px;"><span style="display:inline-block;font-size:24.8px;line-height:1.2;color:#fff;font-weight:bold;transform:translateY(0px) scale(0.2228,0.2500);white-space:nowrap;text-align:center;flex:none;transform-origin:50% 50%">PLACEHOLDER<br>FOR RIGHT MCU</span></div>
<div class="grn" style="left:717.6px;top:257px;width:12.8px;height:12.4px;"><span style="display:inline-block;font-size:23.2px;line-height:1.0;color:#fff;font-weight:bold;transform:translateY(0px) scale(0.2714,0.2500);white-space:nowrap;text-align:center;flex:none;transform-origin:50% 50%">P</span></div>
<div class="grn" style="left:736px;top:257px;width:13px;height:12.4px;"><span style="display:inline-block;font-size:20px;line-height:1.0;color:#fff;font-weight:bold;transform:translateY(0px) scale(0.2500,0.2500);white-space:nowrap;text-align:center;flex:none;transform-origin:50% 50%">&lt;</span></div>
<div class="grn" style="left:717.6px;top:273px;width:12.8px;height:12.4px;"><span style="display:inline-block;font-size:22.0px;line-height:1.0;color:#fff;font-weight:bold;transform:translateY(0px) scale(0.2500,0.2500);white-space:nowrap;text-align:center;flex:none;transform-origin:50% 50%">@</span></div>
<div class="grn" style="left:736px;top:273px;width:13px;height:12.4px;"><span style="display:inline-block;font-size:24px;line-height:1.0;color:#fff;font-weight:bold;transform:translateY(0px) scale(0.2500,0.2500);white-space:nowrap;text-align:center;flex:none;transform-origin:50% 50%">0</span></div>
<div class="key" style="left:671px;top:267px;width:15px;height:14.6px;"><span style="display:inline-block;font-size:13.6px;line-height:1.0;color:#eee;font-weight:bold;transform:translateY(0px) scale(0.2500,0.2500);white-space:nowrap;text-align:center;flex:none;transform-origin:50% 50%">ENT</span></div>
<svg style="position:absolute;left:693.0px;top:268.0px" width="12.8" height="12.8" viewBox="-10 -10 20 20"><defs><radialGradient id="kg8" cx="0.42" cy="0.38" r="0.65"><stop offset="0" stop-color="#d2d2d2"/><stop offset="0.7" stop-color="#a8a8a8"/><stop offset="1" stop-color="#8a8a8a"/></radialGradient></defs><circle r="9.8" fill="url(#kg8)"/><g transform="rotate(0)"><rect x="-9.6" y="-3.2" width="19.2" height="2.4" fill="#c6c6c6" opacity="0.8"/><rect x="-9.6" y="-0.8" width="19.2" height="1.6" fill="#4a4a4a"/><rect x="-9.6" y="0.8" width="19.2" height="2.6" fill="#d8d8d8" opacity="0.8"/></g></svg>
<div style="left:381px;top:238px;width:175.2px;height:28.2px;background:#d89494"></div>
<div class="ph kvp" style="left:381px;top:238px;width:175.2px;height:28.2px;"><span style="display:inline-block;font-size:25.2px;line-height:1.0;color:#fff;font-weight:bold;transform:translateY(0px) scale(0.2149,0.2500);white-space:nowrap;text-align:center;flex:none;transform-origin:50% 50%">PLACEHOLDER FOR KEYBOARD VP</span></div>
<div style="left:381.8px;top:266px;width:178.4px;height:122.5px;background:#1c1c1c"></div>
<div class="key" style="left:385.5px;top:269.2px;width:10.5px;height:10.4px;"><span style="display:inline-block;font-size:26.4px;line-height:1.0;color:#eee;font-weight:bold;transform:translateY(0px) scale(0.2500,0.2500);white-space:nowrap;text-align:center;flex:none;transform-origin:50% 50%">A</span></div>
<div class="key" style="left:401.4px;top:269.2px;width:10.5px;height:10.4px;"><span style="display:inline-block;font-size:26.4px;line-height:1.0;color:#eee;font-weight:bold;transform:translateY(0px) scale(0.2500,0.2500);white-space:nowrap;text-align:center;flex:none;transform-origin:50% 50%">B</span></div>
<div class="key" style="left:418.6px;top:269.2px;width:10.5px;height:10.4px;"><span style="display:inline-block;font-size:26.4px;line-height:1.0;color:#eee;font-weight:bold;transform:translateY(0px) scale(0.2500,0.2500);white-space:nowrap;text-align:center;flex:none;transform-origin:50% 50%">C</span></div>
<div class="key" style="left:434.5px;top:269.2px;width:10.5px;height:10.4px;"><span style="display:inline-block;font-size:26.4px;line-height:1.0;color:#eee;font-weight:bold;transform:translateY(0px) scale(0.2500,0.2500);white-space:nowrap;text-align:center;flex:none;transform-origin:50% 50%">D</span></div>
<div class="key" style="left:451.4px;top:269.2px;width:10.5px;height:10.4px;"><span style="display:inline-block;font-size:26.4px;line-height:1.0;color:#3ec83e;font-weight:bold;transform:translateY(0px) scale(0.2500,0.2500);white-space:nowrap;text-align:center;flex:none;transform-origin:50% 50%">E</span></div>
<div class="key" style="left:467.6px;top:269.2px;width:10.5px;height:10.4px;"><span style="display:inline-block;font-size:26.4px;line-height:1.0;color:#eee;font-weight:bold;transform:translateY(0px) scale(0.2500,0.2500);white-space:nowrap;text-align:center;flex:none;transform-origin:50% 50%">F</span></div>
<div class="key" style="left:385.5px;top:288.8px;width:10.5px;height:10.4px;"><span style="display:inline-block;font-size:26.4px;line-height:1.0;color:#eee;font-weight:bold;transform:translateY(0px) scale(0.2500,0.2500);white-space:nowrap;text-align:center;flex:none;transform-origin:50% 50%">G</span></div>
<div class="key" style="left:401.4px;top:288.8px;width:10.5px;height:10.4px;"><span style="display:inline-block;font-size:26.4px;line-height:1.0;color:#eee;font-weight:bold;transform:translateY(0px) scale(0.2500,0.2500);white-space:nowrap;text-align:center;flex:none;transform-origin:50% 50%">H</span></div>
<div class="key" style="left:418.6px;top:288.8px;width:10.5px;height:10.4px;"><span style="display:inline-block;font-size:26.4px;line-height:1.0;color:#eee;font-weight:bold;transform:translateY(0px) scale(0.2500,0.2500);white-space:nowrap;text-align:center;flex:none;transform-origin:50% 50%">I</span></div>
<div class="key" style="left:434.5px;top:288.8px;width:10.5px;height:10.4px;"><span style="display:inline-block;font-size:26.4px;line-height:1.0;color:#eee;font-weight:bold;transform:translateY(0px) scale(0.2500,0.2500);white-space:nowrap;text-align:center;flex:none;transform-origin:50% 50%">J</span></div>
<div class="key" style="left:451.4px;top:288.8px;width:10.5px;height:10.4px;"><span style="display:inline-block;font-size:26.4px;line-height:1.0;color:#eee;font-weight:bold;transform:translateY(0px) scale(0.2500,0.2500);white-space:nowrap;text-align:center;flex:none;transform-origin:50% 50%">K</span></div>
<div class="key" style="left:467.6px;top:288.8px;width:10.5px;height:10.4px;"><span style="display:inline-block;font-size:26.4px;line-height:1.0;color:#eee;font-weight:bold;transform:translateY(0px) scale(0.2500,0.2500);white-space:nowrap;text-align:center;flex:none;transform-origin:50% 50%">L</span></div>
<div class="key" style="left:385.5px;top:308px;width:10.5px;height:10.8px;"><span style="display:inline-block;font-size:26.4px;line-height:1.0;color:#eee;font-weight:bold;transform:translateY(0px) scale(0.2500,0.2500);white-space:nowrap;text-align:center;flex:none;transform-origin:50% 50%">M</span></div>
<div class="key" style="left:401.4px;top:308px;width:10.5px;height:10.8px;"><span style="display:inline-block;font-size:26.4px;line-height:1.0;color:#3ec83e;font-weight:bold;transform:translateY(0px) scale(0.2500,0.2500);white-space:nowrap;text-align:center;flex:none;transform-origin:50% 50%">N</span></div>
<div class="key" style="left:418.6px;top:308px;width:10.5px;height:10.8px;"><span style="display:inline-block;font-size:26.4px;line-height:1.0;color:#eee;font-weight:bold;transform:translateY(0px) scale(0.2500,0.2500);white-space:nowrap;text-align:center;flex:none;transform-origin:50% 50%">O</span></div>
<div class="key" style="left:434.5px;top:308px;width:10.5px;height:10.8px;"><span style="display:inline-block;font-size:26.4px;line-height:1.0;color:#eee;font-weight:bold;transform:translateY(0px) scale(0.2500,0.2500);white-space:nowrap;text-align:center;flex:none;transform-origin:50% 50%">P</span></div>
<div class="key" style="left:451.4px;top:308px;width:10.5px;height:10.8px;"><span style="display:inline-block;font-size:26.4px;line-height:1.0;color:#eee;font-weight:bold;transform:translateY(0px) scale(0.2500,0.2500);white-space:nowrap;text-align:center;flex:none;transform-origin:50% 50%">Q</span></div>
<div class="key" style="left:467.6px;top:308px;width:10.5px;height:10.8px;"><span style="display:inline-block;font-size:26.4px;line-height:1.0;color:#eee;font-weight:bold;transform:translateY(0px) scale(0.2500,0.2500);white-space:nowrap;text-align:center;flex:none;transform-origin:50% 50%">R</span></div>
<div class="key" style="left:385.5px;top:327.1px;width:10.5px;height:10.7px;"><span style="display:inline-block;font-size:26.4px;line-height:1.0;color:#3ec83e;font-weight:bold;transform:translateY(0px) scale(0.2500,0.2500);white-space:nowrap;text-align:center;flex:none;transform-origin:50% 50%">S</span></div>
<div class="key" style="left:401.4px;top:327.1px;width:10.5px;height:10.7px;"><span style="display:inline-block;font-size:26.4px;line-height:1.0;color:#eee;font-weight:bold;transform:translateY(0px) scale(0.2500,0.2500);white-space:nowrap;text-align:center;flex:none;transform-origin:50% 50%">T</span></div>
<div class="key" style="left:418.6px;top:327.1px;width:10.5px;height:10.7px;"><span style="display:inline-block;font-size:26.4px;line-height:1.0;color:#eee;font-weight:bold;transform:translateY(0px) scale(0.2500,0.2500);white-space:nowrap;text-align:center;flex:none;transform-origin:50% 50%">U</span></div>
<div class="key" style="left:434.5px;top:327.1px;width:10.5px;height:10.7px;"><span style="display:inline-block;font-size:26.4px;line-height:1.0;color:#eee;font-weight:bold;transform:translateY(0px) scale(0.2500,0.2500);white-space:nowrap;text-align:center;flex:none;transform-origin:50% 50%">V</span></div>
<div class="key" style="left:451.4px;top:327.1px;width:10.5px;height:10.7px;"><span style="display:inline-block;font-size:26.4px;line-height:1.0;color:#3ec83e;font-weight:bold;transform:translateY(0px) scale(0.2500,0.2500);white-space:nowrap;text-align:center;flex:none;transform-origin:50% 50%">W</span></div>
<div class="key" style="left:467.6px;top:327.1px;width:10.5px;height:10.7px;"><span style="display:inline-block;font-size:26.4px;line-height:1.0;color:#eee;font-weight:bold;transform:translateY(0px) scale(0.2500,0.2500);white-space:nowrap;text-align:center;flex:none;transform-origin:50% 50%">X</span></div>
<div class="key" style="left:385.5px;top:345.1px;width:10.5px;height:10.4px;"><span style="display:inline-block;font-size:26.4px;line-height:1.0;color:#eee;font-weight:bold;transform:translateY(0px) scale(0.2500,0.2500);white-space:nowrap;text-align:center;flex:none;transform-origin:50% 50%">Y</span></div>
<div class="key" style="left:401.4px;top:345.1px;width:10.5px;height:10.4px;"><span style="display:inline-block;font-size:26.4px;line-height:1.0;color:#eee;font-weight:bold;transform:translateY(0px) scale(0.2500,0.2500);white-space:nowrap;text-align:center;flex:none;transform-origin:50% 50%">Z</span></div>
<div class="key" style="left:418.6px;top:345.1px;width:10.5px;height:10.4px;"><span style="display:inline-block;font-size:26.4px;line-height:1.0;color:#eee;font-weight:bold;transform:translateY(0px) scale(0.2500,0.2500);white-space:nowrap;text-align:center;flex:none;transform-origin:50% 50%">/</span></div>
<div class="key" style="left:434.5px;top:345.1px;width:10.5px;height:10.4px;"><span style="display:inline-block;font-size:13.6px;line-height:1.0;color:#eee;font-weight:bold;transform:translateY(0px) scale(0.2500,0.2500);white-space:nowrap;text-align:center;flex:none;transform-origin:50% 50%">BKS</span></div>
<div class="key" style="left:451.4px;top:345.1px;width:10.5px;height:10.4px;"><span style="display:inline-block;font-size:13.6px;line-height:1.0;color:#eee;font-weight:bold;transform:translateY(0px) scale(0.2500,0.2500);white-space:nowrap;text-align:center;flex:none;transform-origin:50% 50%">SPC</span></div>
<div class="key" style="left:467.6px;top:345.1px;width:10.5px;height:10.4px;"><span style="display:inline-block;font-size:26.4px;line-height:1.0;color:#eee;font-weight:bold;transform:translateY(0px) scale(0.2500,0.2500);white-space:nowrap;text-align:center;flex:none;transform-origin:50% 50%">*</span></div>
<div class="num" style="left:509.1px;top:268.1px;width:11.2px;height:11.2px;"><span style="display:inline-block;font-size:26.4px;line-height:1.0;color:#eee;font-weight:bold;transform:translateY(0px) scale(0.2500,0.2500);white-space:nowrap;text-align:center;flex:none;transform-origin:50% 50%">1</span></div>
<div class="num" style="left:527.1px;top:268.1px;width:11.2px;height:11.2px;"><span style="display:inline-block;font-size:26.4px;line-height:1.0;color:#eee;font-weight:bold;transform:translateY(0px) scale(0.2500,0.2500);white-space:nowrap;text-align:center;flex:none;transform-origin:50% 50%">2</span></div>
<div class="num" style="left:546.0px;top:268.1px;width:11.2px;height:11.2px;"><span style="display:inline-block;font-size:26.4px;line-height:1.0;color:#eee;font-weight:bold;transform:translateY(0px) scale(0.2500,0.2500);white-space:nowrap;text-align:center;flex:none;transform-origin:50% 50%">3</span></div>
<div class="num" style="left:509.1px;top:285.6px;width:11.2px;height:11.2px;"><span style="display:inline-block;font-size:26.4px;line-height:1.0;color:#eee;font-weight:bold;transform:translateY(0px) scale(0.2500,0.2500);white-space:nowrap;text-align:center;flex:none;transform-origin:50% 50%">4</span></div>
<div class="num" style="left:527.1px;top:285.6px;width:11.2px;height:11.2px;"><span style="display:inline-block;font-size:26.4px;line-height:1.0;color:#eee;font-weight:bold;transform:translateY(0px) scale(0.2500,0.2500);white-space:nowrap;text-align:center;flex:none;transform-origin:50% 50%">5</span></div>
<div class="num" style="left:546.0px;top:285.6px;width:11.2px;height:11.2px;"><span style="display:inline-block;font-size:26.4px;line-height:1.0;color:#eee;font-weight:bold;transform:translateY(0px) scale(0.2500,0.2500);white-space:nowrap;text-align:center;flex:none;transform-origin:50% 50%">6</span></div>
<div class="num" style="left:509.1px;top:303.4px;width:11.2px;height:11.2px;"><span style="display:inline-block;font-size:26.4px;line-height:1.0;color:#eee;font-weight:bold;transform:translateY(0px) scale(0.2500,0.2500);white-space:nowrap;text-align:center;flex:none;transform-origin:50% 50%">7</span></div>
<div class="num" style="left:527.1px;top:303.4px;width:11.2px;height:11.2px;"><span style="display:inline-block;font-size:26.4px;line-height:1.0;color:#eee;font-weight:bold;transform:translateY(0px) scale(0.2500,0.2500);white-space:nowrap;text-align:center;flex:none;transform-origin:50% 50%">8</span></div>
<div class="num" style="left:546.0px;top:303.4px;width:11.2px;height:11.2px;"><span style="display:inline-block;font-size:26.4px;line-height:1.0;color:#eee;font-weight:bold;transform:translateY(0px) scale(0.2500,0.2500);white-space:nowrap;text-align:center;flex:none;transform-origin:50% 50%">9</span></div>
<div class="num" style="left:509.1px;top:321.8px;width:11.2px;height:11.2px;"><span style="display:inline-block;font-size:26.4px;line-height:1.0;color:#eee;font-weight:bold;transform:translateY(0px) scale(0.2500,0.2500);white-space:nowrap;text-align:center;flex:none;transform-origin:50% 50%">.</span></div>
<div class="num" style="left:527.1px;top:321.8px;width:11.2px;height:11.2px;"><span style="display:inline-block;font-size:26.4px;line-height:1.0;color:#eee;font-weight:bold;transform:translateY(0px) scale(0.2500,0.2500);white-space:nowrap;text-align:center;flex:none;transform-origin:50% 50%">0</span></div>
<div class="num" style="left:546.0px;top:321.8px;width:11.2px;height:11.2px;"><span style="display:inline-block;font-size:18.4px;line-height:1.0;color:#eee;font-weight:bold;transform:translateY(0px) scale(0.2500,0.2500);white-space:nowrap;text-align:center;flex:none;transform-origin:50% 50%">+/-</span></div>
<div class="num" style="left:509.1px;top:347.8px;width:11.2px;height:11.2px;"><span style="display:inline-block;font-size:26.4px;line-height:1.0;color:#eee;font-weight:bold;transform:translateY(0px) scale(0.2500,0.2500);white-space:nowrap;text-align:center;flex:none;transform-origin:50% 50%">/</span></div>
<div class="num" style="left:527.1px;top:347.8px;width:11.2px;height:11.2px;"><span style="display:inline-block;font-size:26.4px;line-height:1.0;color:#eee;font-weight:bold;transform:translateY(0px) scale(0.2500,0.2500);white-space:nowrap;text-align:center;flex:none;transform-origin:50% 50%">+</span></div>
<div class="num" style="left:546.0px;top:347.8px;width:11.2px;height:11.2px;"><span style="display:inline-block;font-size:26.4px;line-height:1.0;color:#eee;font-weight:bold;transform:translateY(0px) scale(0.2500,0.2500);white-space:nowrap;text-align:center;flex:none;transform-origin:50% 50%">-</span></div>
<div style="left:490px;top:269px;width:1.3px;height:72.5px;background:#c00"></div>
<div style="left:432px;top:340.5px;width:126px;height:1.3px;background:#c00"></div>
<div style="left:432px;top:340.5px;width:1.3px;height:19.1px;background:#c00"></div>
<div style="left:417.7px;top:358.4px;width:15.6px;height:1.3px;background:#c00"></div>
<svg style="position:absolute;left:391.1px;top:362.1px" width="15.0" height="15.0" viewBox="-10 -10 20 20"><defs><radialGradient id="kg9" cx="0.42" cy="0.38" r="0.65"><stop offset="0" stop-color="#d2d2d2"/><stop offset="0.7" stop-color="#a8a8a8"/><stop offset="1" stop-color="#8a8a8a"/></radialGradient></defs><circle r="9.8" fill="url(#kg9)"/><g transform="rotate(45)"><rect x="-9.6" y="-3.2" width="19.2" height="2.4" fill="#c6c6c6" opacity="0.8"/><rect x="-9.6" y="-0.8" width="19.2" height="1.6" fill="#4a4a4a"/><rect x="-9.6" y="0.8" width="19.2" height="2.6" fill="#d8d8d8" opacity="0.8"/></g></svg>
<div class="key" style="left:421px;top:366.3px;width:10.2px;height:10.3px;"><span style="display:inline-block;font-size:13.6px;line-height:1.0;color:#eee;font-weight:bold;transform:translateY(0px) scale(0.2500,0.2500);white-space:nowrap;text-align:center;flex:none;transform-origin:50% 50%">CLR</span></div>
<div class="key" style="left:438.2px;top:366.3px;width:10.2px;height:10.3px;"><span style="display:inline-block;font-size:24px;line-height:1.0;color:#eee;font-weight:bold;transform:translateY(0px) scale(0.2500,0.2500);white-space:nowrap;text-align:center;flex:none;transform-origin:50% 50%">&lt;</span></div>
<div class="key" style="left:455.7px;top:366.3px;width:10.3px;height:10.3px;"><span style="display:inline-block;font-size:24px;line-height:1.0;color:#eee;font-weight:bold;transform:translateY(0px) scale(0.2500,0.2500);white-space:nowrap;text-align:center;flex:none;transform-origin:50% 50%">&gt;</span></div>
<div class="key" style="left:517.8px;top:367.6px;width:27.2px;height:11.8px;"><span style="display:inline-block;font-size:26.0px;line-height:1.0;color:#eee;font-weight:bold;transform:translateY(0px) scale(0.2065,0.2500);white-space:nowrap;text-align:center;flex:none;transform-origin:50% 50%">ENTER</span></div>
<div class="rock" style="left:569px;top:245.3px;width:14.2px;height:28.6px"><div class="rh"><svg width="100%" height="100%" viewBox="0 0 14 14" style="position:absolute;left:0;top:0"><path d="M7 2.5 L10.8 8 L3.2 8 Z" fill="#f0f0f0"/></svg></div><div class="rh rh2"><svg width="100%" height="100%" viewBox="0 0 14 14" style="position:absolute;left:0;top:0"><path d="M7 12 L10.8 6.3 L3.2 6.3 Z" fill="#f0f0f0"/></svg></div></div>
<div class="key" style="left:568.6px;top:276.6px;width:14.6px;height:13.7px;"><span style="display:inline-block;font-size:24px;line-height:1.0;color:#eee;font-weight:bold;transform:translateY(0px) scale(0.2268,0.2500);white-space:nowrap;text-align:center;flex:none;transform-origin:50% 50%">WCA</span></div>
<div class="rock" style="left:569px;top:293.7px;width:14.5px;height:27.9px"><div class="rh"><svg width="100%" height="100%" viewBox="0 0 14 14" style="position:absolute;left:0;top:0"><path d="M7 2.5 L10.8 8 L3.2 8 Z" fill="#f0f0f0"/></svg></div><div class="rh rh2"><svg width="100%" height="100%" viewBox="0 0 14 14" style="position:absolute;left:0;top:0"><path d="M7 12 L10.8 6.3 L3.2 6.3 Z" fill="#f0f0f0"/></svg></div></div>
<div class="key" style="left:568.5px;top:325px;width:12.8px;height:12.4px;"><span style="display:inline-block;font-size:22.0px;line-height:1.0;color:#eee;font-weight:bold;transform:translateY(0px) scale(0.2205,0.2500);white-space:nowrap;text-align:center;flex:none;transform-origin:50% 50%">RTS</span></div>
<div class="rock" style="left:569px;top:341.4px;width:14.5px;height:28.0px"><div class="rh"><svg width="100%" height="100%" viewBox="0 0 14 14" style="position:absolute;left:0;top:0"><path d="M7 2.5 L10.8 8 L3.2 8 Z" fill="#f0f0f0"/></svg></div><div class="rh rh2"><svg width="100%" height="100%" viewBox="0 0 14 14" style="position:absolute;left:0;top:0"><path d="M7 12 L10.8 6.3 L3.2 6.3 Z" fill="#f0f0f0"/></svg></div></div>
<div class="key" style="left:568.5px;top:373px;width:12.8px;height:12.5px;"><span style="display:inline-block;font-size:22.0px;line-height:1.0;color:#eee;font-weight:bold;transform:translateY(0px) scale(0.2281,0.2500);white-space:nowrap;text-align:center;flex:none;transform-origin:50% 50%">IDM</span></div>
<div style="left:587.2px;top:288px;width:181.8px;height:97.5px;background:#dc9a9a"></div>
<div class="ph uvp" style="left:587.2px;top:288px;width:181.8px;height:97.5px;"><span style="display:inline-block;font-size:24.8px;line-height:1.0;color:#fff;font-weight:bold;transform:translateY(0px) scale(0.2194,0.2500);white-space:nowrap;text-align:center;flex:none;transform-origin:50% 50%">PLACEHOLDER FOR UPFRONT VP</span></div>
<div class="ll" style="left:181.25px;top:325px;width:20.5px;height:8.25px;background:#540808"><span style="display:inline-block;font-size:19.2px;line-height:1.0;color:#ff661a;font-weight:bold;transform:translateY(-1.4px) scale(0.2123,0.2500);white-space:nowrap;text-align:center;flex:none;transform-origin:50% 50%">PILOT</span></div>
<div class="ll" style="left:181.25px;top:344.5px;width:27.5px;height:11.25px;background:#540808"><span style="display:inline-block;font-size:19.2px;line-height:1.0;color:#ff661a;font-weight:bold;transform:translateY(-2.6px) scale(0.2197,0.2500);white-space:nowrap;text-align:center;flex:none;transform-origin:50% 50%">C/GUNNER</span></div>
<div class="ll" style="left:181px;top:367px;width:24px;height:10.5px;background:#383838"><span style="display:inline-block;font-size:14.4px;line-height:1.0;color:#eee;font-weight:bold;transform:translateY(0px) scale(0.2404,0.2500);white-space:nowrap;text-align:center;flex:none;transform-origin:50% 50%">MAPS</span></div>
<div style="left:587.2px;top:287.6px;width:181.8px;height:1.0px;background:repeating-linear-gradient(90deg,#e8e8e8 0 2px,#777 2px 3px)"></div>
</div>
<div style="left:0;top:561px;width:1000px;height:10px;background:#000"></div>
</body></html>
